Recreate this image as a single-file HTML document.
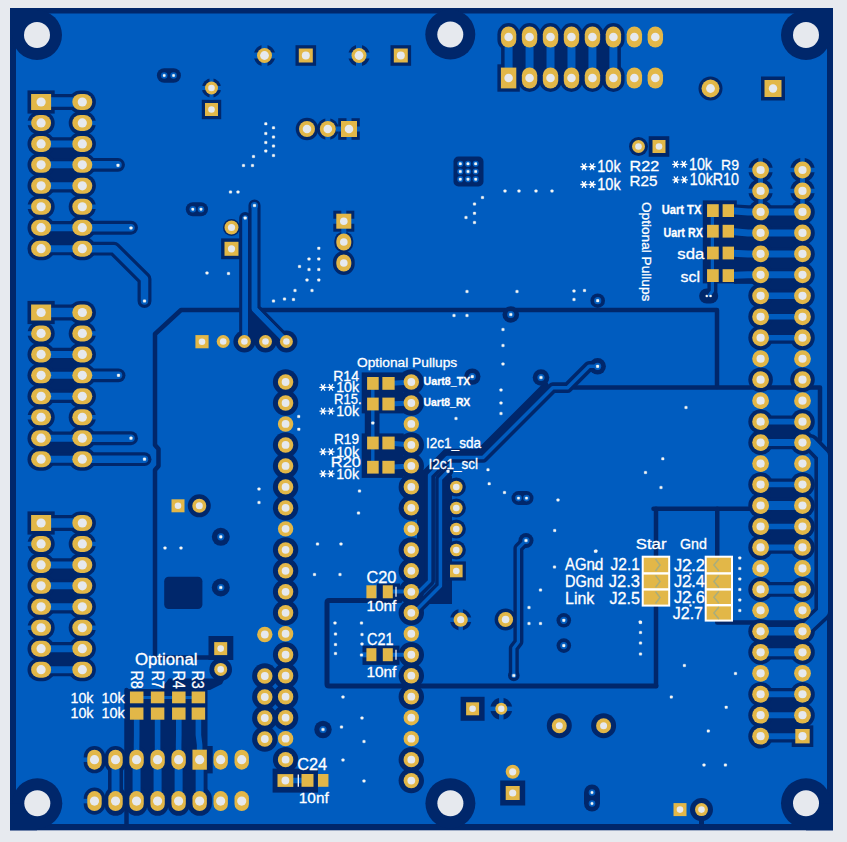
<!DOCTYPE html>
<html><head><meta charset="utf-8"><title>PCB bottom layer</title>
<style>
html,body{margin:0;padding:0;background:#e7eaef;}
body{width:847px;height:842px;overflow:hidden;font-family:"Liberation Sans",sans-serif;}
svg{display:block;}
</style></head><body>
<svg width="847" height="842" viewBox="0 0 847 842" shape-rendering="geometricPrecision">
<rect width="847" height="842" fill="#e7eaef"/>
<g id="pour"><rect x="10" y="8" width="823" height="822.3" fill="#00276b"/>
<rect x="16" y="13.5" width="811" height="810.5" fill="#005cbf"/>
<circle cx="37" cy="35" r="25" fill="#00276b"/>
<circle cx="450.3" cy="34.5" r="25" fill="#00276b"/>
<circle cx="806" cy="35" r="25" fill="#00276b"/>
<circle cx="37.3" cy="803.3" r="25" fill="#00276b"/>
<circle cx="450.4" cy="803.3" r="25" fill="#00276b"/>
<circle cx="806" cy="803.3" r="25" fill="#00276b"/>
<rect x="10" y="8" width="27" height="27" fill="#00276b"/>
<rect x="806" y="8" width="27" height="27" fill="#00276b"/>
<rect x="10" y="803.3" width="27" height="27" fill="#00276b"/>
<rect x="806" y="803.3" width="27" height="27" fill="#00276b"/>
<path d="M212,657.5 H157.5 Q155,657.5 155,655 V470 L158.5,466 V449 L155,445 V334 L181,310 H717 V387" fill="none" stroke="#00276b" stroke-width="4.5" stroke-linecap="round" stroke-linejoin="round"/>
<path d="M574,387.5 H820 V440" fill="none" stroke="#00276b" stroke-width="4.5" stroke-linecap="round" stroke-linejoin="round"/>
<path d="M653.5,508.75 H750" fill="none" stroke="#00276b" stroke-width="4.5" stroke-linecap="round" stroke-linejoin="round"/>
<path d="M656,508.75 V686" fill="none" stroke="#00276b" stroke-width="4.5" stroke-linecap="round" stroke-linejoin="round"/>
<path d="M717.25,508.75 V622.5 H812 L816,618" fill="none" stroke="#00276b" stroke-width="4.5" stroke-linecap="round" stroke-linejoin="round"/>
<path d="M400,600.5 H329 Q327,600.5 327,602.5 V684 Q327,686 329,686 H656" fill="none" stroke="#00276b" stroke-width="5" stroke-linecap="round" stroke-linejoin="round"/>
<path d="M126.5,690 V824" fill="none" stroke="#00276b" stroke-width="4.5" stroke-linecap="round" stroke-linejoin="round"/></g>
<g id="dark"><path d="M41.1,102 H82.3" fill="none" stroke="#00276b" stroke-width="15.9" stroke-linecap="round" stroke-linejoin="round"/>
<rect x="27.5" y="90.4" width="27.2" height="23.2" fill="#00276b"/>
<rect x="68.7" y="90.4" width="27.2" height="23.2" rx="11.6" fill="#00276b"/>
<rect x="27.5" y="111.35" width="27.2" height="23.2" rx="11.6" fill="#00276b"/>
<rect x="68.7" y="111.35" width="27.2" height="23.2" rx="11.6" fill="#00276b"/>
<path d="M41.1,143.9 H82.3" fill="none" stroke="#00276b" stroke-width="13.4" stroke-linecap="round" stroke-linejoin="round"/>
<rect x="41.1" y="143.9" width="41.2" height="20.95" fill="#00276b"/>
<rect x="27.5" y="132.3" width="27.2" height="23.2" rx="11.6" fill="#00276b"/>
<rect x="68.7" y="132.3" width="27.2" height="23.2" rx="11.6" fill="#00276b"/>
<path d="M41.1,164.85 H82.3" fill="none" stroke="#00276b" stroke-width="13.4" stroke-linecap="round" stroke-linejoin="round"/>
<rect x="41.1" y="164.85" width="41.2" height="20.95" fill="#00276b"/>
<rect x="27.5" y="153.25" width="27.2" height="23.2" rx="11.6" fill="#00276b"/>
<rect x="68.7" y="153.25" width="27.2" height="23.2" rx="11.6" fill="#00276b"/>
<path d="M82.3,164.85 H118" fill="none" stroke="#00276b" stroke-width="13.9" stroke-linecap="round" stroke-linejoin="round"/>
<path d="M41.1,185.8 H82.3" fill="none" stroke="#00276b" stroke-width="13.4" stroke-linecap="round" stroke-linejoin="round"/>
<rect x="27.5" y="174.2" width="27.2" height="23.2" rx="11.6" fill="#00276b"/>
<rect x="68.7" y="174.2" width="27.2" height="23.2" rx="11.6" fill="#00276b"/>
<rect x="27.5" y="195.15" width="27.2" height="23.2" rx="11.6" fill="#00276b"/>
<rect x="68.7" y="195.15" width="27.2" height="23.2" rx="11.6" fill="#00276b"/>
<path d="M41.1,227.7 H82.3" fill="none" stroke="#00276b" stroke-width="13.4" stroke-linecap="round" stroke-linejoin="round"/>
<rect x="41.1" y="227.7" width="41.2" height="20.95" fill="#00276b"/>
<rect x="27.5" y="216.1" width="27.2" height="23.2" rx="11.6" fill="#00276b"/>
<rect x="68.7" y="216.1" width="27.2" height="23.2" rx="11.6" fill="#00276b"/>
<path d="M82.3,227.7 H131" fill="none" stroke="#00276b" stroke-width="13.9" stroke-linecap="round" stroke-linejoin="round"/>
<path d="M41.1,248.65 H82.3" fill="none" stroke="#00276b" stroke-width="13.4" stroke-linecap="round" stroke-linejoin="round"/>
<rect x="27.5" y="237.05" width="27.2" height="23.2" rx="11.6" fill="#00276b"/>
<rect x="68.7" y="237.05" width="27.2" height="23.2" rx="11.6" fill="#00276b"/>
<path d="M82.3,248.65 H114 L144.5,279 V301" fill="none" stroke="#00276b" stroke-width="13.9" stroke-linecap="round" stroke-linejoin="round"/>
<path d="M41.1,312.5 H82.3" fill="none" stroke="#00276b" stroke-width="15.9" stroke-linecap="round" stroke-linejoin="round"/>
<rect x="27.5" y="300.9" width="27.2" height="23.2" fill="#00276b"/>
<rect x="68.7" y="300.9" width="27.2" height="23.2" rx="11.6" fill="#00276b"/>
<rect x="27.5" y="321.85" width="27.2" height="23.2" rx="11.6" fill="#00276b"/>
<rect x="68.7" y="321.85" width="27.2" height="23.2" rx="11.6" fill="#00276b"/>
<path d="M41.1,354.4 H82.3" fill="none" stroke="#00276b" stroke-width="13.4" stroke-linecap="round" stroke-linejoin="round"/>
<rect x="41.1" y="354.4" width="41.2" height="20.95" fill="#00276b"/>
<rect x="27.5" y="342.8" width="27.2" height="23.2" rx="11.6" fill="#00276b"/>
<rect x="68.7" y="342.8" width="27.2" height="23.2" rx="11.6" fill="#00276b"/>
<path d="M41.1,375.35 H82.3" fill="none" stroke="#00276b" stroke-width="13.4" stroke-linecap="round" stroke-linejoin="round"/>
<rect x="41.1" y="375.35" width="41.2" height="20.95" fill="#00276b"/>
<rect x="27.5" y="363.75" width="27.2" height="23.2" rx="11.6" fill="#00276b"/>
<rect x="68.7" y="363.75" width="27.2" height="23.2" rx="11.6" fill="#00276b"/>
<path d="M82.3,375.35 H118.5" fill="none" stroke="#00276b" stroke-width="13.9" stroke-linecap="round" stroke-linejoin="round"/>
<path d="M41.1,396.3 H82.3" fill="none" stroke="#00276b" stroke-width="13.4" stroke-linecap="round" stroke-linejoin="round"/>
<rect x="27.5" y="384.7" width="27.2" height="23.2" rx="11.6" fill="#00276b"/>
<rect x="68.7" y="384.7" width="27.2" height="23.2" rx="11.6" fill="#00276b"/>
<rect x="27.5" y="405.65" width="27.2" height="23.2" rx="11.6" fill="#00276b"/>
<rect x="68.7" y="405.65" width="27.2" height="23.2" rx="11.6" fill="#00276b"/>
<path d="M41.1,438.2 H82.3" fill="none" stroke="#00276b" stroke-width="13.4" stroke-linecap="round" stroke-linejoin="round"/>
<rect x="41.1" y="438.2" width="41.2" height="20.95" fill="#00276b"/>
<rect x="27.5" y="426.6" width="27.2" height="23.2" rx="11.6" fill="#00276b"/>
<rect x="68.7" y="426.6" width="27.2" height="23.2" rx="11.6" fill="#00276b"/>
<path d="M82.3,438.2 H131" fill="none" stroke="#00276b" stroke-width="13.9" stroke-linecap="round" stroke-linejoin="round"/>
<path d="M41.1,459.15 H82.3" fill="none" stroke="#00276b" stroke-width="13.4" stroke-linecap="round" stroke-linejoin="round"/>
<rect x="27.5" y="447.55" width="27.2" height="23.2" rx="11.6" fill="#00276b"/>
<rect x="68.7" y="447.55" width="27.2" height="23.2" rx="11.6" fill="#00276b"/>
<path d="M82.3,459.15 H144.5" fill="none" stroke="#00276b" stroke-width="13.9" stroke-linecap="round" stroke-linejoin="round"/>
<path d="M41.1,523 H82.3" fill="none" stroke="#00276b" stroke-width="15.9" stroke-linecap="round" stroke-linejoin="round"/>
<rect x="27.5" y="511.4" width="27.2" height="23.2" fill="#00276b"/>
<rect x="68.7" y="511.4" width="27.2" height="23.2" rx="11.6" fill="#00276b"/>
<rect x="27.5" y="532.35" width="27.2" height="23.2" rx="11.6" fill="#00276b"/>
<rect x="68.7" y="532.35" width="27.2" height="23.2" rx="11.6" fill="#00276b"/>
<path d="M41.1,564.9 H82.3" fill="none" stroke="#00276b" stroke-width="13.4" stroke-linecap="round" stroke-linejoin="round"/>
<rect x="41.1" y="564.9" width="41.2" height="20.95" fill="#00276b"/>
<rect x="27.5" y="553.3" width="27.2" height="23.2" rx="11.6" fill="#00276b"/>
<rect x="68.7" y="553.3" width="27.2" height="23.2" rx="11.6" fill="#00276b"/>
<path d="M41.1,585.85 H82.3" fill="none" stroke="#00276b" stroke-width="13.4" stroke-linecap="round" stroke-linejoin="round"/>
<rect x="41.1" y="585.85" width="41.2" height="20.95" fill="#00276b"/>
<rect x="27.5" y="574.25" width="27.2" height="23.2" rx="11.6" fill="#00276b"/>
<rect x="68.7" y="574.25" width="27.2" height="23.2" rx="11.6" fill="#00276b"/>
<path d="M41.1,606.8 H82.3" fill="none" stroke="#00276b" stroke-width="13.4" stroke-linecap="round" stroke-linejoin="round"/>
<rect x="27.5" y="595.2" width="27.2" height="23.2" rx="11.6" fill="#00276b"/>
<rect x="68.7" y="595.2" width="27.2" height="23.2" rx="11.6" fill="#00276b"/>
<rect x="27.5" y="616.15" width="27.2" height="23.2" rx="11.6" fill="#00276b"/>
<rect x="68.7" y="616.15" width="27.2" height="23.2" rx="11.6" fill="#00276b"/>
<path d="M41.1,648.7 H82.3" fill="none" stroke="#00276b" stroke-width="13.4" stroke-linecap="round" stroke-linejoin="round"/>
<rect x="41.1" y="648.7" width="41.2" height="20.95" fill="#00276b"/>
<rect x="27.5" y="637.1" width="27.2" height="23.2" rx="11.6" fill="#00276b"/>
<rect x="68.7" y="637.1" width="27.2" height="23.2" rx="11.6" fill="#00276b"/>
<path d="M41.1,669.65 H82.3" fill="none" stroke="#00276b" stroke-width="13.4" stroke-linecap="round" stroke-linejoin="round"/>
<rect x="27.5" y="658.05" width="27.2" height="23.2" rx="11.6" fill="#00276b"/>
<rect x="68.7" y="658.05" width="27.2" height="23.2" rx="11.6" fill="#00276b"/>
<ellipse cx="760.6" cy="170" rx="12.3" ry="12.3" fill="#00276b"/>
<ellipse cx="802.5" cy="170" rx="12.3" ry="12.3" fill="#00276b"/>
<ellipse cx="760.6" cy="190.97" rx="12.3" ry="12.3" fill="#00276b"/>
<ellipse cx="802.5" cy="190.97" rx="12.3" ry="12.3" fill="#00276b"/>
<path d="M760.6,211.94 H802.5" fill="none" stroke="#00276b" stroke-width="13.4" stroke-linecap="round" stroke-linejoin="round"/>
<rect x="760.6" y="211.94" width="41.9" height="20.97" fill="#00276b"/>
<circle cx="760.6" cy="211.94" r="12.3" fill="#00276b"/>
<circle cx="802.5" cy="211.94" r="12.3" fill="#00276b"/>
<path d="M760.6,232.91 H802.5" fill="none" stroke="#00276b" stroke-width="13.4" stroke-linecap="round" stroke-linejoin="round"/>
<rect x="760.6" y="232.91" width="41.9" height="20.97" fill="#00276b"/>
<circle cx="760.6" cy="232.91" r="12.3" fill="#00276b"/>
<circle cx="802.5" cy="232.91" r="12.3" fill="#00276b"/>
<path d="M760.6,253.88 H802.5" fill="none" stroke="#00276b" stroke-width="13.4" stroke-linecap="round" stroke-linejoin="round"/>
<rect x="760.6" y="253.88" width="41.9" height="20.97" fill="#00276b"/>
<circle cx="760.6" cy="253.88" r="12.3" fill="#00276b"/>
<circle cx="802.5" cy="253.88" r="12.3" fill="#00276b"/>
<path d="M760.6,274.85 H802.5" fill="none" stroke="#00276b" stroke-width="13.4" stroke-linecap="round" stroke-linejoin="round"/>
<rect x="760.6" y="274.85" width="41.9" height="20.97" fill="#00276b"/>
<circle cx="760.6" cy="274.85" r="12.3" fill="#00276b"/>
<circle cx="802.5" cy="274.85" r="12.3" fill="#00276b"/>
<path d="M760.6,295.82 H802.5" fill="none" stroke="#00276b" stroke-width="12.9" stroke-linecap="round" stroke-linejoin="round"/>
<rect x="760.6" y="295.82" width="41.9" height="20.97" fill="#00276b"/>
<circle cx="760.6" cy="295.82" r="12.3" fill="#00276b"/>
<circle cx="802.5" cy="295.82" r="12.3" fill="#00276b"/>
<path d="M760.6,316.79 H802.5" fill="none" stroke="#00276b" stroke-width="11.9" stroke-linecap="round" stroke-linejoin="round"/>
<rect x="760.6" y="316.79" width="41.9" height="20.97" fill="#00276b"/>
<circle cx="760.6" cy="316.79" r="12.3" fill="#00276b"/>
<circle cx="802.5" cy="316.79" r="12.3" fill="#00276b"/>
<path d="M760.6,337.76 H802.5" fill="none" stroke="#00276b" stroke-width="11.9" stroke-linecap="round" stroke-linejoin="round"/>
<circle cx="760.6" cy="337.76" r="12.3" fill="#00276b"/>
<circle cx="802.5" cy="337.76" r="12.3" fill="#00276b"/>
<circle cx="760.6" cy="379.7" r="12.3" fill="#00276b"/>
<circle cx="802.5" cy="379.7" r="12.3" fill="#00276b"/>
<path d="M760.6,421.64 H802.5" fill="none" stroke="#00276b" stroke-width="12.1" stroke-linecap="round" stroke-linejoin="round"/>
<rect x="760.6" y="421.64" width="41.9" height="20.97" fill="#00276b"/>
<circle cx="760.6" cy="421.64" r="12.3" fill="#00276b"/>
<circle cx="802.5" cy="421.64" r="12.3" fill="#00276b"/>
<path d="M760.6,442.61 H802.5" fill="none" stroke="#00276b" stroke-width="13.4" stroke-linecap="round" stroke-linejoin="round"/>
<circle cx="760.6" cy="442.61" r="12.3" fill="#00276b"/>
<circle cx="802.5" cy="442.61" r="12.3" fill="#00276b"/>
<path d="M760.6,484.55 H802.5" fill="none" stroke="#00276b" stroke-width="11.9" stroke-linecap="round" stroke-linejoin="round"/>
<rect x="760.6" y="484.55" width="41.9" height="20.97" fill="#00276b"/>
<circle cx="760.6" cy="484.55" r="12.3" fill="#00276b"/>
<circle cx="802.5" cy="484.55" r="12.3" fill="#00276b"/>
<path d="M760.6,505.52 H802.5" fill="none" stroke="#00276b" stroke-width="15.4" stroke-linecap="round" stroke-linejoin="round"/>
<rect x="760.6" y="505.52" width="41.9" height="20.97" fill="#00276b"/>
<circle cx="760.6" cy="505.52" r="12.3" fill="#00276b"/>
<circle cx="802.5" cy="505.52" r="12.3" fill="#00276b"/>
<path d="M760.6,526.49 H802.5" fill="none" stroke="#00276b" stroke-width="11.9" stroke-linecap="round" stroke-linejoin="round"/>
<rect x="760.6" y="526.49" width="41.9" height="20.97" fill="#00276b"/>
<circle cx="760.6" cy="526.49" r="12.3" fill="#00276b"/>
<circle cx="802.5" cy="526.49" r="12.3" fill="#00276b"/>
<path d="M760.6,547.46 H802.5" fill="none" stroke="#00276b" stroke-width="12.4" stroke-linecap="round" stroke-linejoin="round"/>
<circle cx="760.6" cy="547.46" r="12.3" fill="#00276b"/>
<circle cx="802.5" cy="547.46" r="12.3" fill="#00276b"/>
<path d="M760.6,589.4 H802.5" fill="none" stroke="#00276b" stroke-width="14.9" stroke-linecap="round" stroke-linejoin="round"/>
<circle cx="760.6" cy="589.4" r="12.3" fill="#00276b"/>
<circle cx="802.5" cy="589.4" r="12.3" fill="#00276b"/>
<path d="M760.6,631.34 H802.5" fill="none" stroke="#00276b" stroke-width="14.9" stroke-linecap="round" stroke-linejoin="round"/>
<rect x="760.6" y="631.34" width="41.9" height="20.97" fill="#00276b"/>
<circle cx="760.6" cy="631.34" r="12.3" fill="#00276b"/>
<circle cx="802.5" cy="631.34" r="12.3" fill="#00276b"/>
<path d="M760.6,652.31 H802.5" fill="none" stroke="#00276b" stroke-width="14.4" stroke-linecap="round" stroke-linejoin="round"/>
<circle cx="760.6" cy="652.31" r="12.3" fill="#00276b"/>
<circle cx="802.5" cy="652.31" r="12.3" fill="#00276b"/>
<path d="M760.6,694.25 H802.5" fill="none" stroke="#00276b" stroke-width="12.4" stroke-linecap="round" stroke-linejoin="round"/>
<rect x="760.6" y="694.25" width="41.9" height="20.97" fill="#00276b"/>
<circle cx="760.6" cy="694.25" r="12.3" fill="#00276b"/>
<circle cx="802.5" cy="694.25" r="12.3" fill="#00276b"/>
<path d="M760.6,715.22 H802.5" fill="none" stroke="#00276b" stroke-width="12.4" stroke-linecap="round" stroke-linejoin="round"/>
<rect x="760.6" y="715.22" width="41.9" height="20.97" fill="#00276b"/>
<circle cx="760.6" cy="715.22" r="12.3" fill="#00276b"/>
<circle cx="802.5" cy="715.22" r="12.3" fill="#00276b"/>
<path d="M760.6,736.19 H802.5" fill="none" stroke="#00276b" stroke-width="12.4" stroke-linecap="round" stroke-linejoin="round"/>
<circle cx="760.6" cy="736.19" r="12.3" fill="#00276b"/>
<rect x="791.7" y="725.39" width="21.6" height="21.6" fill="#00276b"/>
<path d="M802.5,442.61 H810.5 L823,455.5 V612 L802.5,631.34" fill="none" stroke="#00276b" stroke-width="17.2" stroke-linecap="round" stroke-linejoin="round"/>
<path d="M508.6,37 V78" fill="none" stroke="#00276b" stroke-width="15" stroke-linecap="round" stroke-linejoin="round"/>
<rect x="508.6" y="37" width="20.96" height="41" fill="#00276b"/>
<rect x="497.4" y="23.1" width="22.4" height="27.8" rx="11.2" fill="#00276b"/>
<rect x="497.4" y="64.3" width="22.4" height="27.4" fill="#00276b"/>
<path d="M529.56,37 V78" fill="none" stroke="#00276b" stroke-width="15" stroke-linecap="round" stroke-linejoin="round"/>
<rect x="529.56" y="37" width="20.96" height="41" fill="#00276b"/>
<rect x="518.36" y="23.1" width="22.4" height="27.8" rx="11.2" fill="#00276b"/>
<rect x="518.36" y="64.1" width="22.4" height="27.8" rx="11.2" fill="#00276b"/>
<path d="M550.52,37 V78" fill="none" stroke="#00276b" stroke-width="15" stroke-linecap="round" stroke-linejoin="round"/>
<rect x="550.52" y="37" width="20.96" height="41" fill="#00276b"/>
<rect x="539.32" y="23.1" width="22.4" height="27.8" rx="11.2" fill="#00276b"/>
<rect x="539.32" y="64.1" width="22.4" height="27.8" rx="11.2" fill="#00276b"/>
<path d="M571.48,37 V78" fill="none" stroke="#00276b" stroke-width="15" stroke-linecap="round" stroke-linejoin="round"/>
<rect x="571.48" y="37" width="20.96" height="41" fill="#00276b"/>
<rect x="560.28" y="23.1" width="22.4" height="27.8" rx="11.2" fill="#00276b"/>
<rect x="560.28" y="64.1" width="22.4" height="27.8" rx="11.2" fill="#00276b"/>
<path d="M592.44,37 V78" fill="none" stroke="#00276b" stroke-width="15" stroke-linecap="round" stroke-linejoin="round"/>
<rect x="592.44" y="37" width="20.96" height="41" fill="#00276b"/>
<rect x="581.24" y="23.1" width="22.4" height="27.8" rx="11.2" fill="#00276b"/>
<rect x="581.24" y="64.1" width="22.4" height="27.8" rx="11.2" fill="#00276b"/>
<path d="M613.4,37 V78" fill="none" stroke="#00276b" stroke-width="15" stroke-linecap="round" stroke-linejoin="round"/>
<rect x="602.2" y="23.1" width="22.4" height="27.8" rx="11.2" fill="#00276b"/>
<rect x="602.2" y="64.1" width="22.4" height="27.8" rx="11.2" fill="#00276b"/>
<rect x="125.3" y="689" width="82.2" height="112" fill="#00276b"/>
<path d="M160,690 L169,678.5 H214 L226,676 L222,684 L210,690 Z" fill="#00276b"/>
<rect x="83.7" y="746.1" width="21.6" height="27.2" rx="10.8" fill="#00276b"/>
<rect x="83.7" y="787.5" width="21.6" height="27.2" rx="10.8" fill="#00276b"/>
<path d="M115.53,759.7 V801.1" fill="none" stroke="#00276b" stroke-width="15" stroke-linecap="round" stroke-linejoin="round"/>
<rect x="104.73" y="746" width="21.6" height="27.4" rx="10.8" fill="#00276b"/>
<rect x="104.73" y="786.4" width="21.6" height="29.4" rx="10.8" fill="#00276b"/>
<rect x="125.76" y="746" width="21.6" height="27.4" rx="10.8" fill="#00276b"/>
<rect x="125.76" y="786.4" width="21.6" height="29.4" rx="10.8" fill="#00276b"/>
<rect x="146.79" y="746" width="21.6" height="27.4" rx="10.8" fill="#00276b"/>
<rect x="146.79" y="786.4" width="21.6" height="29.4" rx="10.8" fill="#00276b"/>
<rect x="167.82" y="746" width="21.6" height="27.4" rx="10.8" fill="#00276b"/>
<rect x="167.82" y="786.4" width="21.6" height="29.4" rx="10.8" fill="#00276b"/>
<rect x="186.6" y="746" width="26.1" height="27.4" fill="#00276b"/>
<rect x="187.35" y="786.4" width="24.6" height="29.4" rx="12.3" fill="#00276b"/>
<ellipse cx="285.6" cy="382" rx="12.7" ry="12.7" fill="#00276b"/>
<ellipse cx="285.6" cy="402.98" rx="12.7" ry="12.7" fill="#00276b"/>
<ellipse cx="285.6" cy="444.94" rx="12.7" ry="12.7" fill="#00276b"/>
<ellipse cx="285.6" cy="465.92" rx="12.7" ry="12.7" fill="#00276b"/>
<ellipse cx="285.6" cy="486.9" rx="12.7" ry="12.7" fill="#00276b"/>
<ellipse cx="285.6" cy="507.88" rx="12.7" ry="12.7" fill="#00276b"/>
<ellipse cx="285.6" cy="549.84" rx="12.7" ry="12.7" fill="#00276b"/>
<ellipse cx="285.6" cy="570.82" rx="12.7" ry="12.7" fill="#00276b"/>
<ellipse cx="285.6" cy="591.8" rx="12.7" ry="12.7" fill="#00276b"/>
<ellipse cx="285.6" cy="612.78" rx="12.7" ry="12.7" fill="#00276b"/>
<ellipse cx="285.6" cy="654.74" rx="12.7" ry="12.7" fill="#00276b"/>
<ellipse cx="285.6" cy="675.72" rx="12.7" ry="12.7" fill="#00276b"/>
<ellipse cx="285.6" cy="696.7" rx="12.7" ry="12.7" fill="#00276b"/>
<ellipse cx="285.6" cy="717.68" rx="12.7" ry="12.7" fill="#00276b"/>
<ellipse cx="285.6" cy="759.64" rx="12.7" ry="12.7" fill="#00276b"/>
<ellipse cx="411.3" cy="382" rx="12.7" ry="12.7" fill="#00276b"/>
<ellipse cx="411.3" cy="402.98" rx="12.7" ry="12.7" fill="#00276b"/>
<ellipse cx="411.3" cy="444.94" rx="12.7" ry="12.7" fill="#00276b"/>
<ellipse cx="411.3" cy="465.92" rx="12.7" ry="12.7" fill="#00276b"/>
<ellipse cx="411.3" cy="486.9" rx="12.7" ry="12.7" fill="#00276b"/>
<ellipse cx="411.3" cy="507.88" rx="12.7" ry="12.7" fill="#00276b"/>
<ellipse cx="411.3" cy="549.84" rx="12.7" ry="12.7" fill="#00276b"/>
<ellipse cx="411.3" cy="570.82" rx="12.7" ry="12.7" fill="#00276b"/>
<ellipse cx="411.3" cy="591.8" rx="12.7" ry="12.7" fill="#00276b"/>
<ellipse cx="411.3" cy="612.78" rx="12.7" ry="12.7" fill="#00276b"/>
<ellipse cx="411.3" cy="654.74" rx="12.7" ry="12.7" fill="#00276b"/>
<ellipse cx="411.3" cy="675.72" rx="12.7" ry="12.7" fill="#00276b"/>
<ellipse cx="411.3" cy="696.7" rx="12.7" ry="12.7" fill="#00276b"/>
<ellipse cx="411.3" cy="759.64" rx="12.7" ry="12.7" fill="#00276b"/>
<ellipse cx="411.3" cy="780.62" rx="12.7" ry="12.7" fill="#00276b"/>
<ellipse cx="264.8" cy="676" rx="12.7" ry="12.7" fill="#00276b"/>
<ellipse cx="264.8" cy="697" rx="12.7" ry="12.7" fill="#00276b"/>
<ellipse cx="264.8" cy="718" rx="12.7" ry="12.7" fill="#00276b"/>
<ellipse cx="264.8" cy="739" rx="12.7" ry="12.7" fill="#00276b"/>
<rect x="361.7" y="372.4" width="42" height="41" fill="#00276b"/>
<rect x="364.8" y="410" width="14.7" height="26" fill="#00276b"/>
<rect x="361.7" y="433.4" width="42" height="44.5" fill="#00276b"/>
<rect x="702.8" y="200.4" width="34" height="83" fill="#00276b"/>
<path d="M712.4,280 V292 L708.6,296" fill="none" stroke="#00276b" stroke-width="10" stroke-linecap="round" stroke-linejoin="round"/>
<path d="M706.6,296 H710.7" fill="none" stroke="#00276b" stroke-width="15" stroke-linecap="round" stroke-linejoin="round"/>
<path d="M728.3,210.6 L748,211.94 H760.6" fill="none" stroke="#00276b" stroke-width="13.4" stroke-linecap="round" stroke-linejoin="round"/>
<path d="M728.3,231.2 L748,232.91 H760.6" fill="none" stroke="#00276b" stroke-width="13.4" stroke-linecap="round" stroke-linejoin="round"/>
<path d="M728.3,253 L748,253.88 H760.6" fill="none" stroke="#00276b" stroke-width="13.4" stroke-linecap="round" stroke-linejoin="round"/>
<path d="M728.3,275.6 L748,274.85 H760.6" fill="none" stroke="#00276b" stroke-width="13.4" stroke-linecap="round" stroke-linejoin="round"/>
<rect x="734" y="211.94" width="27" height="71.91" fill="#00276b"/>
<path d="M541,377.5 L545.5,385.6 L479,452 H446 L424.5,473.5 V582 L417,590" fill="none" stroke="#00276b" stroke-width="6.5" stroke-linecap="round" stroke-linejoin="round"/>
<rect x="417" y="470" width="8" height="115" fill="#00276b"/>
<path d="M597.6,366.3 H589 L567.5,387.7 H552.7 L483,457.5 H447.3 L429.6,475.2 V581 L418.5,592 H411.3" fill="none" stroke="#00276b" stroke-width="10.7" stroke-linecap="round" stroke-linejoin="round"/>
<path d="M448,471.3 L440.4,479 V586 L414,612.4 H411.3" fill="none" stroke="#00276b" stroke-width="10.3" stroke-linecap="round" stroke-linejoin="round"/>
<path d="M443,480 L449,473 L452,476 V604 H428 L443,589 Z" fill="#00276b"/>
<ellipse cx="456.3" cy="487" rx="9.6" ry="9.6" fill="#00276b"/>
<ellipse cx="456.3" cy="508" rx="9.6" ry="9.6" fill="#00276b"/>
<ellipse cx="456.3" cy="529" rx="9.6" ry="9.6" fill="#00276b"/>
<ellipse cx="456.3" cy="550" rx="9.6" ry="9.6" fill="#00276b"/>
<rect x="446.7" y="561.4" width="19.2" height="19.2" fill="#00276b"/>
<ellipse cx="244.4" cy="341.5" rx="11" ry="11" fill="#00276b"/>
<ellipse cx="265.5" cy="341.5" rx="11" ry="11" fill="#00276b"/>
<ellipse cx="286.4" cy="341.5" rx="11" ry="11" fill="#00276b"/>
<path d="M245.2,218 V341.5" fill="none" stroke="#00276b" stroke-width="12.1" stroke-linecap="round" stroke-linejoin="round"/>
<path d="M254.5,205.5 V309 L286.4,341.5" fill="none" stroke="#00276b" stroke-width="12.1" stroke-linecap="round" stroke-linejoin="round"/>
<path d="M248,300 H254 L282,330 L270,341 H248 Z" fill="#00276b"/>
<circle cx="254.5" cy="205.5" r="5.5" fill="#00276b"/>
<circle cx="510.8" cy="314.5" r="8.3" fill="#00276b"/>
<circle cx="597.7" cy="300.7" r="7.3" fill="#00276b"/>
<circle cx="472.3" cy="376.6" r="8.2" fill="#00276b"/>
<circle cx="541" cy="377.5" r="8.3" fill="#00276b"/>
<circle cx="597.6" cy="366.3" r="8.3" fill="#00276b"/>
<circle cx="220.8" cy="536.8" r="9" fill="#00276b"/>
<circle cx="220.8" cy="587.5" r="9" fill="#00276b"/>
<circle cx="323" cy="729.5" r="8.7" fill="#00276b"/>
<circle cx="563.8" cy="645.6" r="7.3" fill="#00276b"/>
<circle cx="563.8" cy="620.3" r="7.3" fill="#00276b"/>
<path d="M592,792.5 L592,803.5" fill="none" stroke="#00276b" stroke-width="16" stroke-linecap="round" stroke-linejoin="round"/>
<path d="M526,540.5 L518.4,548 V642 L513.8,648 V675.5" fill="none" stroke="#00276b" stroke-width="10" stroke-linecap="round" stroke-linejoin="round"/>
<circle cx="526" cy="540.5" r="7.5" fill="#00276b"/>
<circle cx="513.8" cy="675.5" r="5.8" fill="#00276b"/>
<ellipse cx="264.5" cy="55.5" rx="10.8" ry="10.8" fill="#00276b"/>
<rect x="295.5" y="45.2" width="20.6" height="20.6" fill="#00276b"/>
<ellipse cx="359" cy="55.5" rx="10.8" ry="10.8" fill="#00276b"/>
<rect x="390.5" y="45.2" width="20.6" height="20.6" fill="#00276b"/>
<ellipse cx="211.5" cy="88" rx="9.7" ry="9.7" fill="#00276b"/>
<rect x="201.8" y="99.8" width="19.4" height="19.4" fill="#00276b"/>
<ellipse cx="307" cy="129" rx="11.3" ry="11.3" fill="#00276b"/>
<ellipse cx="327.8" cy="129" rx="10.8" ry="10.8" fill="#00276b"/>
<rect x="338.2" y="118.2" width="21.6" height="21.6" fill="#00276b"/>
<ellipse cx="231.5" cy="227.5" rx="8.5" ry="8.5" fill="#00276b"/>
<rect x="221.1" y="238.4" width="20.8" height="20.8" fill="#00276b"/>
<rect x="333.3" y="210.7" width="21" height="21" fill="#00276b"/>
<rect x="334.3" y="231.5" width="19" height="21" rx="9.5" fill="#00276b"/>
<rect x="332.9" y="251.1" width="21.8" height="23.8" rx="10.9" fill="#00276b"/>
<ellipse cx="710.5" cy="88.5" rx="12" ry="12" fill="#00276b"/>
<rect x="761" y="76.5" width="24" height="24" fill="#00276b"/>
<ellipse cx="638.5" cy="146.5" rx="9.5" ry="9.5" fill="#00276b"/>
<rect x="648.7" y="136.2" width="20.6" height="20.6" fill="#00276b"/>
<ellipse cx="199.3" cy="505.8" rx="11.5" ry="11.5" fill="#00276b"/>
<rect x="208.5" y="636" width="24.8" height="24" fill="#00276b"/>
<ellipse cx="220.7" cy="669.4" rx="10.7" ry="10.7" fill="#00276b"/>
<circle cx="220.7" cy="669.4" r="11.3" fill="#00276b"/>
<rect x="460.6" y="696.8" width="24" height="24" fill="#00276b"/>
<ellipse cx="501.3" cy="708.8" rx="11" ry="11" fill="#00276b"/>
<ellipse cx="559.3" cy="725.7" rx="12.5" ry="12.5" fill="#00276b"/>
<ellipse cx="603.6" cy="725.7" rx="12.5" ry="12.5" fill="#00276b"/>
<rect x="500.2" y="780.5" width="25" height="25" fill="#00276b"/>
<ellipse cx="460.7" cy="619.7" rx="10.7" ry="10.7" fill="#00276b"/>
<ellipse cx="505.6" cy="619.5" rx="11" ry="11" fill="#00276b"/>
<ellipse cx="701.5" cy="809.6" rx="11.5" ry="11.5" fill="#00276b"/>
<path d="M701.5,815 V826" fill="none" stroke="#00276b" stroke-width="5" stroke-linecap="round" stroke-linejoin="round"/>
<rect x="164.2" y="576.8" width="38.2" height="32.2" fill="#00276b" rx="4.5"/>
<rect x="453.5" y="156.5" width="30" height="30" fill="#00276b" rx="5"/>
<path d="M164.2,75.5 L173.6,75.5" fill="none" stroke="#00276b" stroke-width="14.6" stroke-linecap="round" stroke-linejoin="round"/>
<path d="M192.8,209.2 L201,209.2" fill="none" stroke="#00276b" stroke-width="14" stroke-linecap="round" stroke-linejoin="round"/>
<path d="M518.5,498.1 L526.5,498.1" fill="none" stroke="#00276b" stroke-width="14" stroke-linecap="round" stroke-linejoin="round"/>
<rect x="377" y="583.5" width="23" height="17" fill="#00276b"/>
<rect x="362.5" y="645.6" width="37" height="19.3" fill="#00276b"/>
<rect x="272.6" y="768.6" width="45.4" height="24" fill="#00276b"/></g>
<g id="blue"><path d="M41.1,102 H82.3" fill="none" stroke="#005cbf" stroke-width="9.5" stroke-linecap="round" stroke-linejoin="round"/>
<path d="M25.5,122.95 H41.1" fill="none" stroke="#005cbf" stroke-width="4.5" stroke-linecap="butt" stroke-linejoin="round"/>
<path d="M82.3,122.95 H97.9" fill="none" stroke="#005cbf" stroke-width="4.5" stroke-linecap="butt" stroke-linejoin="round"/>
<path d="M41.1,143.9 H82.3" fill="none" stroke="#005cbf" stroke-width="7" stroke-linecap="round" stroke-linejoin="round"/>
<path d="M41.1,164.85 H82.3" fill="none" stroke="#005cbf" stroke-width="7" stroke-linecap="round" stroke-linejoin="round"/>
<path d="M82.3,164.85 H118" fill="none" stroke="#005cbf" stroke-width="7.5" stroke-linecap="round" stroke-linejoin="round"/>
<path d="M41.1,185.8 H82.3" fill="none" stroke="#005cbf" stroke-width="7" stroke-linecap="round" stroke-linejoin="round"/>
<path d="M25.5,206.75 H41.1" fill="none" stroke="#005cbf" stroke-width="4.5" stroke-linecap="butt" stroke-linejoin="round"/>
<path d="M82.3,206.75 H97.9" fill="none" stroke="#005cbf" stroke-width="4.5" stroke-linecap="butt" stroke-linejoin="round"/>
<path d="M41.1,227.7 H82.3" fill="none" stroke="#005cbf" stroke-width="7" stroke-linecap="round" stroke-linejoin="round"/>
<path d="M82.3,227.7 H131" fill="none" stroke="#005cbf" stroke-width="7.5" stroke-linecap="round" stroke-linejoin="round"/>
<path d="M41.1,248.65 H82.3" fill="none" stroke="#005cbf" stroke-width="7" stroke-linecap="round" stroke-linejoin="round"/>
<path d="M82.3,248.65 H114 L144.5,279 V301" fill="none" stroke="#005cbf" stroke-width="7.5" stroke-linecap="round" stroke-linejoin="round"/>
<path d="M41.1,312.5 H82.3" fill="none" stroke="#005cbf" stroke-width="9.5" stroke-linecap="round" stroke-linejoin="round"/>
<path d="M25.5,333.45 H41.1" fill="none" stroke="#005cbf" stroke-width="4.5" stroke-linecap="butt" stroke-linejoin="round"/>
<path d="M82.3,333.45 H97.9" fill="none" stroke="#005cbf" stroke-width="4.5" stroke-linecap="butt" stroke-linejoin="round"/>
<path d="M41.1,354.4 H82.3" fill="none" stroke="#005cbf" stroke-width="7" stroke-linecap="round" stroke-linejoin="round"/>
<path d="M41.1,375.35 H82.3" fill="none" stroke="#005cbf" stroke-width="7" stroke-linecap="round" stroke-linejoin="round"/>
<path d="M82.3,375.35 H118.5" fill="none" stroke="#005cbf" stroke-width="7.5" stroke-linecap="round" stroke-linejoin="round"/>
<path d="M41.1,396.3 H82.3" fill="none" stroke="#005cbf" stroke-width="7" stroke-linecap="round" stroke-linejoin="round"/>
<path d="M25.5,417.25 H41.1" fill="none" stroke="#005cbf" stroke-width="4.5" stroke-linecap="butt" stroke-linejoin="round"/>
<path d="M82.3,417.25 H97.9" fill="none" stroke="#005cbf" stroke-width="4.5" stroke-linecap="butt" stroke-linejoin="round"/>
<path d="M41.1,438.2 H82.3" fill="none" stroke="#005cbf" stroke-width="7" stroke-linecap="round" stroke-linejoin="round"/>
<path d="M82.3,438.2 H131" fill="none" stroke="#005cbf" stroke-width="7.5" stroke-linecap="round" stroke-linejoin="round"/>
<path d="M41.1,459.15 H82.3" fill="none" stroke="#005cbf" stroke-width="7" stroke-linecap="round" stroke-linejoin="round"/>
<path d="M82.3,459.15 H144.5" fill="none" stroke="#005cbf" stroke-width="7.5" stroke-linecap="round" stroke-linejoin="round"/>
<path d="M41.1,523 H82.3" fill="none" stroke="#005cbf" stroke-width="9.5" stroke-linecap="round" stroke-linejoin="round"/>
<path d="M25.5,543.95 H41.1" fill="none" stroke="#005cbf" stroke-width="4.5" stroke-linecap="butt" stroke-linejoin="round"/>
<path d="M82.3,543.95 H97.9" fill="none" stroke="#005cbf" stroke-width="4.5" stroke-linecap="butt" stroke-linejoin="round"/>
<path d="M41.1,564.9 H82.3" fill="none" stroke="#005cbf" stroke-width="7" stroke-linecap="round" stroke-linejoin="round"/>
<path d="M41.1,585.85 H82.3" fill="none" stroke="#005cbf" stroke-width="7" stroke-linecap="round" stroke-linejoin="round"/>
<path d="M41.1,606.8 H82.3" fill="none" stroke="#005cbf" stroke-width="7" stroke-linecap="round" stroke-linejoin="round"/>
<path d="M25.5,627.75 H41.1" fill="none" stroke="#005cbf" stroke-width="4.5" stroke-linecap="butt" stroke-linejoin="round"/>
<path d="M82.3,627.75 H97.9" fill="none" stroke="#005cbf" stroke-width="4.5" stroke-linecap="butt" stroke-linejoin="round"/>
<path d="M41.1,648.7 H82.3" fill="none" stroke="#005cbf" stroke-width="7" stroke-linecap="round" stroke-linejoin="round"/>
<path d="M41.1,669.65 H82.3" fill="none" stroke="#005cbf" stroke-width="7" stroke-linecap="round" stroke-linejoin="round"/>
<path d="M746.3,170 H774.9" fill="none" stroke="#005cbf" stroke-width="4.5" stroke-linecap="butt" stroke-linejoin="round"/>
<path d="M760.6,155.7 V184.3" fill="none" stroke="#005cbf" stroke-width="4.5" stroke-linecap="butt" stroke-linejoin="round"/>
<path d="M788.2,170 H816.8" fill="none" stroke="#005cbf" stroke-width="4.5" stroke-linecap="butt" stroke-linejoin="round"/>
<path d="M802.5,155.7 V184.3" fill="none" stroke="#005cbf" stroke-width="4.5" stroke-linecap="butt" stroke-linejoin="round"/>
<path d="M746.3,190.97 H774.9" fill="none" stroke="#005cbf" stroke-width="4.5" stroke-linecap="butt" stroke-linejoin="round"/>
<path d="M760.6,176.67 V205.27" fill="none" stroke="#005cbf" stroke-width="4.5" stroke-linecap="butt" stroke-linejoin="round"/>
<path d="M788.2,190.97 H816.8" fill="none" stroke="#005cbf" stroke-width="4.5" stroke-linecap="butt" stroke-linejoin="round"/>
<path d="M802.5,176.67 V205.27" fill="none" stroke="#005cbf" stroke-width="4.5" stroke-linecap="butt" stroke-linejoin="round"/>
<path d="M760.6,211.94 H802.5" fill="none" stroke="#005cbf" stroke-width="7" stroke-linecap="round" stroke-linejoin="round"/>
<path d="M760.6,232.91 H802.5" fill="none" stroke="#005cbf" stroke-width="7" stroke-linecap="round" stroke-linejoin="round"/>
<path d="M760.6,253.88 H802.5" fill="none" stroke="#005cbf" stroke-width="7" stroke-linecap="round" stroke-linejoin="round"/>
<path d="M760.6,274.85 H802.5" fill="none" stroke="#005cbf" stroke-width="7" stroke-linecap="round" stroke-linejoin="round"/>
<path d="M760.6,295.82 H802.5" fill="none" stroke="#005cbf" stroke-width="6.5" stroke-linecap="round" stroke-linejoin="round"/>
<path d="M760.6,316.79 H802.5" fill="none" stroke="#005cbf" stroke-width="5.5" stroke-linecap="round" stroke-linejoin="round"/>
<path d="M760.6,337.76 H802.5" fill="none" stroke="#005cbf" stroke-width="5.5" stroke-linecap="round" stroke-linejoin="round"/>
<path d="M760.6,421.64 H802.5" fill="none" stroke="#005cbf" stroke-width="5.7" stroke-linecap="round" stroke-linejoin="round"/>
<path d="M760.6,442.61 H802.5" fill="none" stroke="#005cbf" stroke-width="7" stroke-linecap="round" stroke-linejoin="round"/>
<path d="M760.6,484.55 H802.5" fill="none" stroke="#005cbf" stroke-width="5.5" stroke-linecap="round" stroke-linejoin="round"/>
<path d="M760.6,505.52 H802.5" fill="none" stroke="#005cbf" stroke-width="9" stroke-linecap="round" stroke-linejoin="round"/>
<path d="M760.6,526.49 H802.5" fill="none" stroke="#005cbf" stroke-width="5.5" stroke-linecap="round" stroke-linejoin="round"/>
<path d="M760.6,547.46 H802.5" fill="none" stroke="#005cbf" stroke-width="6" stroke-linecap="round" stroke-linejoin="round"/>
<path d="M760.6,589.4 H802.5" fill="none" stroke="#005cbf" stroke-width="8.5" stroke-linecap="round" stroke-linejoin="round"/>
<path d="M760.6,631.34 H802.5" fill="none" stroke="#005cbf" stroke-width="8.5" stroke-linecap="round" stroke-linejoin="round"/>
<path d="M760.6,652.31 H802.5" fill="none" stroke="#005cbf" stroke-width="8" stroke-linecap="round" stroke-linejoin="round"/>
<path d="M760.6,694.25 H802.5" fill="none" stroke="#005cbf" stroke-width="6" stroke-linecap="round" stroke-linejoin="round"/>
<path d="M760.6,715.22 H802.5" fill="none" stroke="#005cbf" stroke-width="6" stroke-linecap="round" stroke-linejoin="round"/>
<path d="M760.6,736.19 H802.5" fill="none" stroke="#005cbf" stroke-width="6" stroke-linecap="round" stroke-linejoin="round"/>
<path d="M802.5,442.61 H810.5 L823,455.5 V612 L802.5,631.34" fill="none" stroke="#005cbf" stroke-width="10" stroke-linecap="round" stroke-linejoin="round"/>
<path d="M508.6,37 V78" fill="none" stroke="#005cbf" stroke-width="8" stroke-linecap="round" stroke-linejoin="round"/>
<path d="M529.56,37 V78" fill="none" stroke="#005cbf" stroke-width="8" stroke-linecap="round" stroke-linejoin="round"/>
<path d="M550.52,37 V78" fill="none" stroke="#005cbf" stroke-width="8" stroke-linecap="round" stroke-linejoin="round"/>
<path d="M571.48,37 V78" fill="none" stroke="#005cbf" stroke-width="8" stroke-linecap="round" stroke-linejoin="round"/>
<path d="M592.44,37 V78" fill="none" stroke="#005cbf" stroke-width="8" stroke-linecap="round" stroke-linejoin="round"/>
<path d="M613.4,37 V78" fill="none" stroke="#005cbf" stroke-width="8" stroke-linecap="round" stroke-linejoin="round"/>
<path d="M78.9,759.7 H94.5" fill="none" stroke="#005cbf" stroke-width="4.5" stroke-linecap="butt" stroke-linejoin="round"/>
<path d="M78.9,801.1 H94.5" fill="none" stroke="#005cbf" stroke-width="4.5" stroke-linecap="butt" stroke-linejoin="round"/>
<path d="M115.53,759.7 V801.1" fill="none" stroke="#005cbf" stroke-width="8" stroke-linecap="round" stroke-linejoin="round"/>
<path d="M136.56,759.7 V801.1" fill="none" stroke="#005cbf" stroke-width="8" stroke-linecap="round" stroke-linejoin="round"/>
<path d="M136.7,713.6 V735 L136.56,745 V759.7" fill="none" stroke="#005cbf" stroke-width="5.6" stroke-linecap="round" stroke-linejoin="round"/>
<path d="M157.59,759.7 V801.1" fill="none" stroke="#005cbf" stroke-width="8" stroke-linecap="round" stroke-linejoin="round"/>
<path d="M157.6,713.6 V735 L157.59,745 V759.7" fill="none" stroke="#005cbf" stroke-width="5.6" stroke-linecap="round" stroke-linejoin="round"/>
<path d="M178.62,759.7 V801.1" fill="none" stroke="#005cbf" stroke-width="8" stroke-linecap="round" stroke-linejoin="round"/>
<path d="M178.8,713.6 V735 L178.62,745 V759.7" fill="none" stroke="#005cbf" stroke-width="5.6" stroke-linecap="round" stroke-linejoin="round"/>
<path d="M199.65,759.7 V801.1" fill="none" stroke="#005cbf" stroke-width="8" stroke-linecap="round" stroke-linejoin="round"/>
<path d="M198.4,713.6 V735 L199.65,745 V759.7" fill="none" stroke="#005cbf" stroke-width="5.6" stroke-linecap="round" stroke-linejoin="round"/>
<path d="M136.7,697.4 H198.4" fill="none" stroke="#005cbf" stroke-width="3" stroke-linecap="round" stroke-linejoin="round"/>
<path d="M372.8,383 V467" fill="none" stroke="#005cbf" stroke-width="3.4" stroke-linecap="round" stroke-linejoin="round"/>
<path d="M388.5,383.4 L411.3,382" fill="none" stroke="#005cbf" stroke-width="5" stroke-linecap="round" stroke-linejoin="round"/>
<path d="M388.5,404 L411.3,402.98" fill="none" stroke="#005cbf" stroke-width="5" stroke-linecap="round" stroke-linejoin="round"/>
<path d="M388.5,443 L411.3,444.94" fill="none" stroke="#005cbf" stroke-width="5" stroke-linecap="round" stroke-linejoin="round"/>
<path d="M388.5,467.2 L411.3,465.92" fill="none" stroke="#005cbf" stroke-width="5" stroke-linecap="round" stroke-linejoin="round"/>
<path d="M712.4,210 V291 L709.5,295" fill="none" stroke="#005cbf" stroke-width="3.2" stroke-linecap="round" stroke-linejoin="round"/>
<path d="M728.3,210.6 L748,211.94 H760.6" fill="none" stroke="#005cbf" stroke-width="7" stroke-linecap="round" stroke-linejoin="round"/>
<path d="M728.3,231.2 L748,232.91 H760.6" fill="none" stroke="#005cbf" stroke-width="7" stroke-linecap="round" stroke-linejoin="round"/>
<path d="M728.3,253 L748,253.88 H760.6" fill="none" stroke="#005cbf" stroke-width="7" stroke-linecap="round" stroke-linejoin="round"/>
<path d="M728.3,275.6 L748,274.85 H760.6" fill="none" stroke="#005cbf" stroke-width="7" stroke-linecap="round" stroke-linejoin="round"/>
<path d="M597.6,366.3 H589 L567.5,387.7 H552.7 L483,457.5 H447.3 L429.6,475.2 V581 L418.5,592 H411.3" fill="none" stroke="#005cbf" stroke-width="3.5" stroke-linecap="round" stroke-linejoin="round"/>
<path d="M448,471.3 L440.4,479 V586 L414,612.4 H411.3" fill="none" stroke="#005cbf" stroke-width="3.5" stroke-linecap="round" stroke-linejoin="round"/>
<path d="M245.2,218 V341.5" fill="none" stroke="#005cbf" stroke-width="5.5" stroke-linecap="round" stroke-linejoin="round"/>
<path d="M254.5,205.5 V309 L286.4,341.5" fill="none" stroke="#005cbf" stroke-width="5.5" stroke-linecap="round" stroke-linejoin="round"/>
<path d="M245.2,218 V341.5" fill="none" stroke="#005cbf" stroke-width="5.5" stroke-linecap="round" stroke-linejoin="round"/>
<path d="M254.5,205.5 V309 L286.4,341.5" fill="none" stroke="#005cbf" stroke-width="5.5" stroke-linecap="round" stroke-linejoin="round"/>
<circle cx="254.5" cy="205.5" r="3.6" fill="#005cbf"/>
<circle cx="510.8" cy="314.5" r="3.6" fill="#005cbf"/>
<circle cx="597.7" cy="300.7" r="3.6" fill="#005cbf"/>
<circle cx="472.3" cy="376.6" r="3.6" fill="#005cbf"/>
<circle cx="541" cy="377.5" r="3.6" fill="#005cbf"/>
<circle cx="597.6" cy="366.3" r="3.6" fill="#005cbf"/>
<circle cx="220.8" cy="536.8" r="3.6" fill="#005cbf"/>
<circle cx="220.8" cy="587.5" r="3.6" fill="#005cbf"/>
<circle cx="323" cy="729.5" r="3.6" fill="#005cbf"/>
<circle cx="563.8" cy="645.6" r="3.6" fill="#005cbf"/>
<circle cx="563.8" cy="620.3" r="3.6" fill="#005cbf"/>
<circle cx="592" cy="792.5" r="3.3" fill="#005cbf"/>
<circle cx="592" cy="803.5" r="3.3" fill="#005cbf"/>
<path d="M526,540.5 L518.4,548 V642 L513.8,648 V675.5" fill="none" stroke="#005cbf" stroke-width="3.2" stroke-linecap="round" stroke-linejoin="round"/>
<circle cx="526" cy="540.5" r="3.6" fill="#005cbf"/>
<circle cx="513.8" cy="675.5" r="2.5" fill="#005cbf"/>
<path d="M251.7,55.5 H277.3" fill="none" stroke="#005cbf" stroke-width="6" stroke-linecap="butt" stroke-linejoin="round"/>
<path d="M264.5,42.7 V68.3" fill="none" stroke="#005cbf" stroke-width="6" stroke-linecap="butt" stroke-linejoin="round"/>
<path d="M346.2,55.5 H371.8" fill="none" stroke="#005cbf" stroke-width="6" stroke-linecap="butt" stroke-linejoin="round"/>
<path d="M359,42.7 V68.3" fill="none" stroke="#005cbf" stroke-width="6" stroke-linecap="butt" stroke-linejoin="round"/>
<path d="M199.8,88 H223.2" fill="none" stroke="#005cbf" stroke-width="4" stroke-linecap="butt" stroke-linejoin="round"/>
<path d="M211.5,76.3 V99.7" fill="none" stroke="#005cbf" stroke-width="4" stroke-linecap="butt" stroke-linejoin="round"/>
<path d="M327.8,116.2 V141.8" fill="none" stroke="#005cbf" stroke-width="5" stroke-linecap="butt" stroke-linejoin="round"/>
<path d="M349,116 V142 M336,129 H362" fill="none" stroke="#005cbf" stroke-width="5" stroke-linecap="butt" stroke-linejoin="round"/>
<path d="M343.8,208 V234 M330,221.2 H357" fill="none" stroke="#005cbf" stroke-width="5" stroke-linecap="butt" stroke-linejoin="round"/>
<path d="M488.3,708.8 H514.3" fill="none" stroke="#005cbf" stroke-width="4.5" stroke-linecap="butt" stroke-linejoin="round"/>
<path d="M501.3,695.8 V721.8" fill="none" stroke="#005cbf" stroke-width="4.5" stroke-linecap="butt" stroke-linejoin="round"/>
<path d="M448,619.7 H473.4" fill="none" stroke="#005cbf" stroke-width="4.5" stroke-linecap="butt" stroke-linejoin="round"/>
<path d="M460.7,607 V632.4" fill="none" stroke="#005cbf" stroke-width="4.5" stroke-linecap="butt" stroke-linejoin="round"/>
<circle cx="460.3" cy="163.8" r="3.1" fill="#005cbf"/>
<circle cx="460.3" cy="171.5" r="3.1" fill="#005cbf"/>
<circle cx="460.3" cy="179.2" r="3.1" fill="#005cbf"/>
<circle cx="468" cy="163.8" r="3.1" fill="#005cbf"/>
<circle cx="468" cy="171.5" r="3.1" fill="#005cbf"/>
<circle cx="468" cy="179.2" r="3.1" fill="#005cbf"/>
<circle cx="475.7" cy="163.8" r="3.1" fill="#005cbf"/>
<circle cx="475.7" cy="171.5" r="3.1" fill="#005cbf"/>
<circle cx="475.7" cy="179.2" r="3.1" fill="#005cbf"/>
<circle cx="164.2" cy="75.5" r="3.3" fill="#005cbf"/>
<circle cx="173.6" cy="75.5" r="3.3" fill="#005cbf"/>
<circle cx="192.8" cy="209.2" r="3.3" fill="#005cbf"/>
<circle cx="201" cy="209.2" r="3.3" fill="#005cbf"/>
<circle cx="518.5" cy="498.1" r="3.3" fill="#005cbf"/>
<circle cx="526.5" cy="498.1" r="3.3" fill="#005cbf"/>
<path d="M388,591.6 H411.3" fill="none" stroke="#005cbf" stroke-width="4" stroke-linecap="round" stroke-linejoin="round"/>
<path d="M360,654.8 H371" fill="none" stroke="#005cbf" stroke-width="5" stroke-linecap="butt" stroke-linejoin="round"/>
<path d="M388,654.8 H411.3" fill="none" stroke="#005cbf" stroke-width="4" stroke-linecap="round" stroke-linejoin="round"/>
<path d="M285.4,780.6 H307" fill="none" stroke="#005cbf" stroke-width="5.5" stroke-linecap="round" stroke-linejoin="round"/></g>
<g id="gold"><rect x="31.1" y="94" width="20" height="16" fill="#e2b748"/>
<rect x="72.3" y="94" width="20" height="16" rx="8" fill="#e2b748"/>
<rect x="31.1" y="114.95" width="20" height="16" rx="8" fill="#e2b748"/>
<rect x="72.3" y="114.95" width="20" height="16" rx="8" fill="#e2b748"/>
<rect x="31.1" y="135.9" width="20" height="16" rx="8" fill="#e2b748"/>
<rect x="72.3" y="135.9" width="20" height="16" rx="8" fill="#e2b748"/>
<rect x="31.1" y="156.85" width="20" height="16" rx="8" fill="#e2b748"/>
<rect x="72.3" y="156.85" width="20" height="16" rx="8" fill="#e2b748"/>
<rect x="31.1" y="177.8" width="20" height="16" rx="8" fill="#e2b748"/>
<rect x="72.3" y="177.8" width="20" height="16" rx="8" fill="#e2b748"/>
<rect x="31.1" y="198.75" width="20" height="16" rx="8" fill="#e2b748"/>
<rect x="72.3" y="198.75" width="20" height="16" rx="8" fill="#e2b748"/>
<rect x="31.1" y="219.7" width="20" height="16" rx="8" fill="#e2b748"/>
<rect x="72.3" y="219.7" width="20" height="16" rx="8" fill="#e2b748"/>
<rect x="31.1" y="240.65" width="20" height="16" rx="8" fill="#e2b748"/>
<rect x="72.3" y="240.65" width="20" height="16" rx="8" fill="#e2b748"/>
<rect x="31.1" y="304.5" width="20" height="16" fill="#e2b748"/>
<rect x="72.3" y="304.5" width="20" height="16" rx="8" fill="#e2b748"/>
<rect x="31.1" y="325.45" width="20" height="16" rx="8" fill="#e2b748"/>
<rect x="72.3" y="325.45" width="20" height="16" rx="8" fill="#e2b748"/>
<rect x="31.1" y="346.4" width="20" height="16" rx="8" fill="#e2b748"/>
<rect x="72.3" y="346.4" width="20" height="16" rx="8" fill="#e2b748"/>
<rect x="31.1" y="367.35" width="20" height="16" rx="8" fill="#e2b748"/>
<rect x="72.3" y="367.35" width="20" height="16" rx="8" fill="#e2b748"/>
<rect x="31.1" y="388.3" width="20" height="16" rx="8" fill="#e2b748"/>
<rect x="72.3" y="388.3" width="20" height="16" rx="8" fill="#e2b748"/>
<rect x="31.1" y="409.25" width="20" height="16" rx="8" fill="#e2b748"/>
<rect x="72.3" y="409.25" width="20" height="16" rx="8" fill="#e2b748"/>
<rect x="31.1" y="430.2" width="20" height="16" rx="8" fill="#e2b748"/>
<rect x="72.3" y="430.2" width="20" height="16" rx="8" fill="#e2b748"/>
<rect x="31.1" y="451.15" width="20" height="16" rx="8" fill="#e2b748"/>
<rect x="72.3" y="451.15" width="20" height="16" rx="8" fill="#e2b748"/>
<rect x="31.1" y="515" width="20" height="16" fill="#e2b748"/>
<rect x="72.3" y="515" width="20" height="16" rx="8" fill="#e2b748"/>
<rect x="31.1" y="535.95" width="20" height="16" rx="8" fill="#e2b748"/>
<rect x="72.3" y="535.95" width="20" height="16" rx="8" fill="#e2b748"/>
<rect x="31.1" y="556.9" width="20" height="16" rx="8" fill="#e2b748"/>
<rect x="72.3" y="556.9" width="20" height="16" rx="8" fill="#e2b748"/>
<rect x="31.1" y="577.85" width="20" height="16" rx="8" fill="#e2b748"/>
<rect x="72.3" y="577.85" width="20" height="16" rx="8" fill="#e2b748"/>
<rect x="31.1" y="598.8" width="20" height="16" rx="8" fill="#e2b748"/>
<rect x="72.3" y="598.8" width="20" height="16" rx="8" fill="#e2b748"/>
<rect x="31.1" y="619.75" width="20" height="16" rx="8" fill="#e2b748"/>
<rect x="72.3" y="619.75" width="20" height="16" rx="8" fill="#e2b748"/>
<rect x="31.1" y="640.7" width="20" height="16" rx="8" fill="#e2b748"/>
<rect x="72.3" y="640.7" width="20" height="16" rx="8" fill="#e2b748"/>
<rect x="31.1" y="661.65" width="20" height="16" rx="8" fill="#e2b748"/>
<rect x="72.3" y="661.65" width="20" height="16" rx="8" fill="#e2b748"/>
<ellipse cx="760.6" cy="170" rx="8.4" ry="8.4" fill="#e2b748"/>
<ellipse cx="802.5" cy="170" rx="8.4" ry="8.4" fill="#e2b748"/>
<ellipse cx="760.6" cy="190.97" rx="8.4" ry="8.4" fill="#e2b748"/>
<ellipse cx="802.5" cy="190.97" rx="8.4" ry="8.4" fill="#e2b748"/>
<ellipse cx="760.6" cy="211.94" rx="8.4" ry="8.4" fill="#e2b748"/>
<ellipse cx="802.5" cy="211.94" rx="8.4" ry="8.4" fill="#e2b748"/>
<ellipse cx="760.6" cy="232.91" rx="8.4" ry="8.4" fill="#e2b748"/>
<ellipse cx="802.5" cy="232.91" rx="8.4" ry="8.4" fill="#e2b748"/>
<ellipse cx="760.6" cy="253.88" rx="8.4" ry="8.4" fill="#e2b748"/>
<ellipse cx="802.5" cy="253.88" rx="8.4" ry="8.4" fill="#e2b748"/>
<ellipse cx="760.6" cy="274.85" rx="8.4" ry="8.4" fill="#e2b748"/>
<ellipse cx="802.5" cy="274.85" rx="8.4" ry="8.4" fill="#e2b748"/>
<ellipse cx="760.6" cy="295.82" rx="8.4" ry="8.4" fill="#e2b748"/>
<ellipse cx="802.5" cy="295.82" rx="8.4" ry="8.4" fill="#e2b748"/>
<ellipse cx="760.6" cy="316.79" rx="8.4" ry="8.4" fill="#e2b748"/>
<ellipse cx="802.5" cy="316.79" rx="8.4" ry="8.4" fill="#e2b748"/>
<ellipse cx="760.6" cy="337.76" rx="8.4" ry="8.4" fill="#e2b748"/>
<ellipse cx="802.5" cy="337.76" rx="8.4" ry="8.4" fill="#e2b748"/>
<ellipse cx="760.6" cy="358.73" rx="8.4" ry="8.4" fill="#e2b748"/>
<ellipse cx="802.5" cy="358.73" rx="8.4" ry="8.4" fill="#e2b748"/>
<ellipse cx="760.6" cy="379.7" rx="8.4" ry="8.4" fill="#e2b748"/>
<ellipse cx="802.5" cy="379.7" rx="8.4" ry="8.4" fill="#e2b748"/>
<ellipse cx="760.6" cy="400.67" rx="8.4" ry="8.4" fill="#e2b748"/>
<ellipse cx="802.5" cy="400.67" rx="8.4" ry="8.4" fill="#e2b748"/>
<ellipse cx="760.6" cy="421.64" rx="8.4" ry="8.4" fill="#e2b748"/>
<ellipse cx="802.5" cy="421.64" rx="8.4" ry="8.4" fill="#e2b748"/>
<ellipse cx="760.6" cy="442.61" rx="8.4" ry="8.4" fill="#e2b748"/>
<ellipse cx="802.5" cy="442.61" rx="8.4" ry="8.4" fill="#e2b748"/>
<ellipse cx="760.6" cy="463.58" rx="8.4" ry="8.4" fill="#e2b748"/>
<ellipse cx="802.5" cy="463.58" rx="8.4" ry="8.4" fill="#e2b748"/>
<ellipse cx="760.6" cy="484.55" rx="8.4" ry="8.4" fill="#e2b748"/>
<ellipse cx="802.5" cy="484.55" rx="8.4" ry="8.4" fill="#e2b748"/>
<ellipse cx="760.6" cy="505.52" rx="8.4" ry="8.4" fill="#e2b748"/>
<ellipse cx="802.5" cy="505.52" rx="8.4" ry="8.4" fill="#e2b748"/>
<ellipse cx="760.6" cy="526.49" rx="8.4" ry="8.4" fill="#e2b748"/>
<ellipse cx="802.5" cy="526.49" rx="8.4" ry="8.4" fill="#e2b748"/>
<ellipse cx="760.6" cy="547.46" rx="8.4" ry="8.4" fill="#e2b748"/>
<ellipse cx="802.5" cy="547.46" rx="8.4" ry="8.4" fill="#e2b748"/>
<ellipse cx="760.6" cy="568.43" rx="8.4" ry="8.4" fill="#e2b748"/>
<ellipse cx="802.5" cy="568.43" rx="8.4" ry="8.4" fill="#e2b748"/>
<ellipse cx="760.6" cy="589.4" rx="8.4" ry="8.4" fill="#e2b748"/>
<ellipse cx="802.5" cy="589.4" rx="8.4" ry="8.4" fill="#e2b748"/>
<ellipse cx="760.6" cy="610.37" rx="8.4" ry="8.4" fill="#e2b748"/>
<ellipse cx="802.5" cy="610.37" rx="8.4" ry="8.4" fill="#e2b748"/>
<ellipse cx="760.6" cy="631.34" rx="8.4" ry="8.4" fill="#e2b748"/>
<ellipse cx="802.5" cy="631.34" rx="8.4" ry="8.4" fill="#e2b748"/>
<ellipse cx="760.6" cy="652.31" rx="8.4" ry="8.4" fill="#e2b748"/>
<ellipse cx="802.5" cy="652.31" rx="8.4" ry="8.4" fill="#e2b748"/>
<ellipse cx="760.6" cy="673.28" rx="8.4" ry="8.4" fill="#e2b748"/>
<ellipse cx="802.5" cy="673.28" rx="8.4" ry="8.4" fill="#e2b748"/>
<ellipse cx="760.6" cy="694.25" rx="8.4" ry="8.4" fill="#e2b748"/>
<ellipse cx="802.5" cy="694.25" rx="8.4" ry="8.4" fill="#e2b748"/>
<ellipse cx="760.6" cy="715.22" rx="8.4" ry="8.4" fill="#e2b748"/>
<ellipse cx="802.5" cy="715.22" rx="8.4" ry="8.4" fill="#e2b748"/>
<ellipse cx="760.6" cy="736.19" rx="8.4" ry="8.4" fill="#e2b748"/>
<rect x="795.3" y="728.99" width="14.4" height="14.4" fill="#e2b748"/>
<rect x="500.9" y="26.6" width="15.4" height="20.8" rx="7.7" fill="#e2b748"/>
<rect x="500.9" y="67.6" width="15.4" height="20.8" fill="#e2b748"/>
<rect x="521.86" y="26.6" width="15.4" height="20.8" rx="7.7" fill="#e2b748"/>
<rect x="521.86" y="67.6" width="15.4" height="20.8" rx="7.7" fill="#e2b748"/>
<rect x="542.82" y="26.6" width="15.4" height="20.8" rx="7.7" fill="#e2b748"/>
<rect x="542.82" y="67.6" width="15.4" height="20.8" rx="7.7" fill="#e2b748"/>
<rect x="563.78" y="26.6" width="15.4" height="20.8" rx="7.7" fill="#e2b748"/>
<rect x="563.78" y="67.6" width="15.4" height="20.8" rx="7.7" fill="#e2b748"/>
<rect x="584.74" y="26.6" width="15.4" height="20.8" rx="7.7" fill="#e2b748"/>
<rect x="584.74" y="67.6" width="15.4" height="20.8" rx="7.7" fill="#e2b748"/>
<rect x="605.7" y="26.6" width="15.4" height="20.8" rx="7.7" fill="#e2b748"/>
<rect x="605.7" y="67.6" width="15.4" height="20.8" rx="7.7" fill="#e2b748"/>
<rect x="626.66" y="26.6" width="15.4" height="20.8" rx="7.7" fill="#e2b748"/>
<rect x="626.66" y="67.6" width="15.4" height="20.8" rx="7.7" fill="#e2b748"/>
<rect x="647.62" y="26.6" width="15.4" height="20.8" rx="7.7" fill="#e2b748"/>
<rect x="647.62" y="67.6" width="15.4" height="20.8" rx="7.7" fill="#e2b748"/>
<rect x="87.3" y="749.7" width="14.4" height="20" rx="7.2" fill="#e2b748"/>
<rect x="87.3" y="791.1" width="14.4" height="20" rx="7.2" fill="#e2b748"/>
<rect x="108.33" y="749.7" width="14.4" height="20" rx="7.2" fill="#e2b748"/>
<rect x="108.33" y="791.1" width="14.4" height="20" rx="7.2" fill="#e2b748"/>
<rect x="129.36" y="749.7" width="14.4" height="20" rx="7.2" fill="#e2b748"/>
<rect x="129.36" y="791.1" width="14.4" height="20" rx="7.2" fill="#e2b748"/>
<rect x="150.39" y="749.7" width="14.4" height="20" rx="7.2" fill="#e2b748"/>
<rect x="150.39" y="791.1" width="14.4" height="20" rx="7.2" fill="#e2b748"/>
<rect x="171.42" y="749.7" width="14.4" height="20" rx="7.2" fill="#e2b748"/>
<rect x="171.42" y="791.1" width="14.4" height="20" rx="7.2" fill="#e2b748"/>
<rect x="192.45" y="749.7" width="14.4" height="20" fill="#e2b748"/>
<rect x="192.45" y="791.1" width="14.4" height="20" rx="7.2" fill="#e2b748"/>
<rect x="213.48" y="749.7" width="14.4" height="20" rx="7.2" fill="#e2b748"/>
<rect x="213.48" y="791.1" width="14.4" height="20" rx="7.2" fill="#e2b748"/>
<rect x="234.51" y="749.7" width="14.4" height="20" rx="7.2" fill="#e2b748"/>
<rect x="234.51" y="791.1" width="14.4" height="20" rx="7.2" fill="#e2b748"/>
<rect x="129.95" y="691.5" width="13.5" height="11.8" fill="#e2b748"/>
<rect x="129.95" y="707.5" width="13.5" height="12.2" fill="#e2b748"/>
<rect x="150.85" y="691.5" width="13.5" height="11.8" fill="#e2b748"/>
<rect x="150.85" y="707.5" width="13.5" height="12.2" fill="#e2b748"/>
<rect x="172.05" y="691.5" width="13.5" height="11.8" fill="#e2b748"/>
<rect x="172.05" y="707.5" width="13.5" height="12.2" fill="#e2b748"/>
<rect x="191.65" y="691.5" width="13.5" height="11.8" fill="#e2b748"/>
<rect x="191.65" y="707.5" width="13.5" height="12.2" fill="#e2b748"/>
<ellipse cx="285.6" cy="382" rx="7.7" ry="7.7" fill="#e2b748"/>
<ellipse cx="285.6" cy="402.98" rx="7.7" ry="7.7" fill="#e2b748"/>
<ellipse cx="285.6" cy="423.96" rx="7.7" ry="7.7" fill="#e2b748"/>
<ellipse cx="285.6" cy="444.94" rx="7.7" ry="7.7" fill="#e2b748"/>
<ellipse cx="285.6" cy="465.92" rx="7.7" ry="7.7" fill="#e2b748"/>
<ellipse cx="285.6" cy="486.9" rx="7.7" ry="7.7" fill="#e2b748"/>
<ellipse cx="285.6" cy="507.88" rx="7.7" ry="7.7" fill="#e2b748"/>
<ellipse cx="285.6" cy="528.86" rx="7.7" ry="7.7" fill="#e2b748"/>
<ellipse cx="285.6" cy="549.84" rx="7.7" ry="7.7" fill="#e2b748"/>
<ellipse cx="285.6" cy="570.82" rx="7.7" ry="7.7" fill="#e2b748"/>
<ellipse cx="285.6" cy="591.8" rx="7.7" ry="7.7" fill="#e2b748"/>
<ellipse cx="285.6" cy="612.78" rx="7.7" ry="7.7" fill="#e2b748"/>
<ellipse cx="285.6" cy="633.76" rx="7.7" ry="7.7" fill="#e2b748"/>
<ellipse cx="285.6" cy="654.74" rx="7.7" ry="7.7" fill="#e2b748"/>
<ellipse cx="285.6" cy="675.72" rx="7.7" ry="7.7" fill="#e2b748"/>
<ellipse cx="285.6" cy="696.7" rx="7.7" ry="7.7" fill="#e2b748"/>
<ellipse cx="285.6" cy="717.68" rx="7.7" ry="7.7" fill="#e2b748"/>
<ellipse cx="285.6" cy="738.66" rx="7.7" ry="7.7" fill="#e2b748"/>
<ellipse cx="285.6" cy="759.64" rx="7.7" ry="7.7" fill="#e2b748"/>
<rect x="277.5" y="774.1" width="15.8" height="12.8" fill="#e2b748"/>
<ellipse cx="411.3" cy="382" rx="7.7" ry="7.7" fill="#e2b748"/>
<ellipse cx="411.3" cy="402.98" rx="7.7" ry="7.7" fill="#e2b748"/>
<ellipse cx="411.3" cy="423.96" rx="7.7" ry="7.7" fill="#e2b748"/>
<ellipse cx="411.3" cy="444.94" rx="7.7" ry="7.7" fill="#e2b748"/>
<ellipse cx="411.3" cy="465.92" rx="7.7" ry="7.7" fill="#e2b748"/>
<ellipse cx="411.3" cy="486.9" rx="7.7" ry="7.7" fill="#e2b748"/>
<ellipse cx="411.3" cy="507.88" rx="7.7" ry="7.7" fill="#e2b748"/>
<ellipse cx="411.3" cy="528.86" rx="7.7" ry="7.7" fill="#e2b748"/>
<ellipse cx="411.3" cy="549.84" rx="7.7" ry="7.7" fill="#e2b748"/>
<ellipse cx="411.3" cy="570.82" rx="7.7" ry="7.7" fill="#e2b748"/>
<ellipse cx="411.3" cy="591.8" rx="7.7" ry="7.7" fill="#e2b748"/>
<ellipse cx="411.3" cy="612.78" rx="7.7" ry="7.7" fill="#e2b748"/>
<ellipse cx="411.3" cy="633.76" rx="7.7" ry="7.7" fill="#e2b748"/>
<ellipse cx="411.3" cy="654.74" rx="7.7" ry="7.7" fill="#e2b748"/>
<ellipse cx="411.3" cy="675.72" rx="7.7" ry="7.7" fill="#e2b748"/>
<ellipse cx="411.3" cy="696.7" rx="7.7" ry="7.7" fill="#e2b748"/>
<ellipse cx="411.3" cy="717.68" rx="7.7" ry="7.7" fill="#e2b748"/>
<ellipse cx="411.3" cy="738.66" rx="7.7" ry="7.7" fill="#e2b748"/>
<ellipse cx="411.3" cy="759.64" rx="7.7" ry="7.7" fill="#e2b748"/>
<ellipse cx="411.3" cy="780.62" rx="7.7" ry="7.7" fill="#e2b748"/>
<ellipse cx="264.8" cy="634.5" rx="7.7" ry="7.7" fill="#e2b748"/>
<ellipse cx="264.8" cy="676" rx="7.7" ry="7.7" fill="#e2b748"/>
<ellipse cx="264.8" cy="697" rx="7.7" ry="7.7" fill="#e2b748"/>
<ellipse cx="264.8" cy="718" rx="7.7" ry="7.7" fill="#e2b748"/>
<ellipse cx="264.8" cy="739" rx="7.7" ry="7.7" fill="#e2b748"/>
<rect x="367.1" y="377" width="11.6" height="12.8" fill="#e2b748"/>
<rect x="382.35" y="377" width="12.3" height="12.8" fill="#e2b748"/>
<rect x="367.1" y="397.6" width="11.6" height="12.8" fill="#e2b748"/>
<rect x="382.35" y="397.6" width="12.3" height="12.8" fill="#e2b748"/>
<rect x="367.1" y="436.6" width="11.6" height="12.8" fill="#e2b748"/>
<rect x="382.35" y="436.6" width="12.3" height="12.8" fill="#e2b748"/>
<rect x="367.1" y="460.8" width="11.6" height="12.8" fill="#e2b748"/>
<rect x="382.35" y="460.8" width="12.3" height="12.8" fill="#e2b748"/>
<rect x="707.05" y="204.2" width="11.7" height="12.8" fill="#e2b748"/>
<rect x="722.6" y="204.2" width="11.4" height="12.8" fill="#e2b748"/>
<rect x="707.05" y="224.8" width="11.7" height="12.8" fill="#e2b748"/>
<rect x="722.6" y="224.8" width="11.4" height="12.8" fill="#e2b748"/>
<rect x="707.05" y="246.6" width="11.7" height="12.8" fill="#e2b748"/>
<rect x="722.6" y="246.6" width="11.4" height="12.8" fill="#e2b748"/>
<rect x="707.05" y="269.2" width="11.7" height="12.8" fill="#e2b748"/>
<rect x="722.6" y="269.2" width="11.4" height="12.8" fill="#e2b748"/>
<ellipse cx="456.3" cy="487" rx="6.3" ry="6.3" fill="#e2b748"/>
<ellipse cx="456.3" cy="508" rx="6.3" ry="6.3" fill="#e2b748"/>
<ellipse cx="456.3" cy="529" rx="6.3" ry="6.3" fill="#e2b748"/>
<ellipse cx="456.3" cy="550" rx="6.3" ry="6.3" fill="#e2b748"/>
<rect x="450" y="564.7" width="12.6" height="12.6" fill="#e2b748"/>
<rect x="195.4" y="335.1" width="13.2" height="13.2" fill="#e2b748"/>
<ellipse cx="223.2" cy="341.5" rx="6.5" ry="6.5" fill="#e2b748"/>
<ellipse cx="244.4" cy="341.5" rx="6.5" ry="6.5" fill="#e2b748"/>
<ellipse cx="265.5" cy="341.5" rx="6.5" ry="6.5" fill="#e2b748"/>
<ellipse cx="286.4" cy="341.5" rx="6.5" ry="6.5" fill="#e2b748"/>
<ellipse cx="264.5" cy="55.5" rx="7.5" ry="7.5" fill="#e2b748"/>
<rect x="298.8" y="48.5" width="14" height="14" fill="#e2b748"/>
<ellipse cx="359" cy="55.5" rx="7.5" ry="7.5" fill="#e2b748"/>
<rect x="393.8" y="48.5" width="14" height="14" fill="#e2b748"/>
<ellipse cx="211.5" cy="88" rx="6.5" ry="6.5" fill="#e2b748"/>
<rect x="205" y="103" width="13" height="13" fill="#e2b748"/>
<ellipse cx="307" cy="129" rx="8" ry="8" fill="#e2b748"/>
<ellipse cx="327.8" cy="129" rx="8" ry="8" fill="#e2b748"/>
<rect x="341" y="121" width="16" height="16" fill="#e2b748"/>
<ellipse cx="231.5" cy="227.5" rx="7" ry="7" fill="#e2b748"/>
<rect x="224.5" y="241.8" width="14" height="14" fill="#e2b748"/>
<rect x="336.3" y="213.7" width="15" height="15" fill="#e2b748"/>
<rect x="336.3" y="233.5" width="15" height="17" rx="7.5" fill="#e2b748"/>
<rect x="336.3" y="254.5" width="15" height="17" rx="7.5" fill="#e2b748"/>
<ellipse cx="710.5" cy="88.5" rx="9" ry="9" fill="#e2b748"/>
<rect x="764.5" y="80" width="17" height="17" fill="#e2b748"/>
<ellipse cx="638.5" cy="146.5" rx="6.5" ry="6.5" fill="#e2b748"/>
<rect x="652.5" y="140" width="13" height="13" fill="#e2b748"/>
<rect x="171.5" y="499.3" width="13" height="13" fill="#e2b748"/>
<ellipse cx="199.3" cy="505.8" rx="7" ry="7" fill="#e2b748"/>
<rect x="214.2" y="642.1" width="13" height="13" fill="#e2b748"/>
<ellipse cx="220.7" cy="669.4" rx="6.5" ry="6.5" fill="#e2b748"/>
<rect x="466.1" y="702.3" width="13" height="13" fill="#e2b748"/>
<ellipse cx="501.3" cy="708.8" rx="6" ry="6" fill="#e2b748"/>
<ellipse cx="559.3" cy="725.7" rx="7.5" ry="7.5" fill="#e2b748"/>
<ellipse cx="603.6" cy="725.7" rx="7.5" ry="7.5" fill="#e2b748"/>
<ellipse cx="512.7" cy="771.8" rx="7" ry="7" fill="#e2b748"/>
<rect x="505.7" y="786" width="14" height="14" fill="#e2b748"/>
<ellipse cx="460.7" cy="619.7" rx="7.1" ry="7.1" fill="#e2b748"/>
<ellipse cx="505.6" cy="619.5" rx="7.5" ry="7.5" fill="#e2b748"/>
<rect x="673.5" y="803.1" width="13" height="13" fill="#e2b748"/>
<ellipse cx="701.5" cy="809.6" rx="6.5" ry="6.5" fill="#e2b748"/>
<rect x="642.7" y="556.7" width="26.5" height="48.9" fill="#e2b748"/>
<rect x="705.7" y="556.7" width="26.3" height="63.9" fill="#e2b748"/>
<rect x="366.4" y="585.3" width="10" height="13" fill="#e2b748"/>
<rect x="382.8" y="585.3" width="10" height="13" fill="#e2b748"/>
<rect x="366.4" y="648.2" width="10" height="13" fill="#e2b748"/>
<rect x="382.8" y="648.2" width="10" height="13" fill="#e2b748"/>
<rect x="301.5" y="774" width="12" height="12.8" fill="#e2b748"/>
<rect x="317.95" y="774" width="10.5" height="12.8" fill="#e2b748"/></g>
<g id="holes"><circle cx="37" cy="35" r="13" fill="#e6e9ee"/>
<circle cx="450.3" cy="34.5" r="13" fill="#e6e9ee"/>
<circle cx="806" cy="35" r="13" fill="#e6e9ee"/>
<circle cx="37.3" cy="803.3" r="13" fill="#e6e9ee"/>
<circle cx="450.4" cy="803.3" r="13" fill="#e6e9ee"/>
<circle cx="806" cy="803.3" r="13" fill="#e6e9ee"/>
<circle cx="41.1" cy="102" r="4.6" fill="#e6e9ee"/>
<circle cx="82.3" cy="102" r="4.6" fill="#e6e9ee"/>
<circle cx="41.1" cy="122.95" r="4.6" fill="#e6e9ee"/>
<circle cx="82.3" cy="122.95" r="4.6" fill="#e6e9ee"/>
<circle cx="41.1" cy="143.9" r="4.6" fill="#e6e9ee"/>
<circle cx="82.3" cy="143.9" r="4.6" fill="#e6e9ee"/>
<circle cx="41.1" cy="164.85" r="4.6" fill="#e6e9ee"/>
<circle cx="82.3" cy="164.85" r="4.6" fill="#e6e9ee"/>
<circle cx="41.1" cy="185.8" r="4.6" fill="#e6e9ee"/>
<circle cx="82.3" cy="185.8" r="4.6" fill="#e6e9ee"/>
<circle cx="41.1" cy="206.75" r="4.6" fill="#e6e9ee"/>
<circle cx="82.3" cy="206.75" r="4.6" fill="#e6e9ee"/>
<circle cx="41.1" cy="227.7" r="4.6" fill="#e6e9ee"/>
<circle cx="82.3" cy="227.7" r="4.6" fill="#e6e9ee"/>
<circle cx="41.1" cy="248.65" r="4.6" fill="#e6e9ee"/>
<circle cx="82.3" cy="248.65" r="4.6" fill="#e6e9ee"/>
<circle cx="41.1" cy="312.5" r="4.6" fill="#e6e9ee"/>
<circle cx="82.3" cy="312.5" r="4.6" fill="#e6e9ee"/>
<circle cx="41.1" cy="333.45" r="4.6" fill="#e6e9ee"/>
<circle cx="82.3" cy="333.45" r="4.6" fill="#e6e9ee"/>
<circle cx="41.1" cy="354.4" r="4.6" fill="#e6e9ee"/>
<circle cx="82.3" cy="354.4" r="4.6" fill="#e6e9ee"/>
<circle cx="41.1" cy="375.35" r="4.6" fill="#e6e9ee"/>
<circle cx="82.3" cy="375.35" r="4.6" fill="#e6e9ee"/>
<circle cx="41.1" cy="396.3" r="4.6" fill="#e6e9ee"/>
<circle cx="82.3" cy="396.3" r="4.6" fill="#e6e9ee"/>
<circle cx="41.1" cy="417.25" r="4.6" fill="#e6e9ee"/>
<circle cx="82.3" cy="417.25" r="4.6" fill="#e6e9ee"/>
<circle cx="41.1" cy="438.2" r="4.6" fill="#e6e9ee"/>
<circle cx="82.3" cy="438.2" r="4.6" fill="#e6e9ee"/>
<circle cx="41.1" cy="459.15" r="4.6" fill="#e6e9ee"/>
<circle cx="82.3" cy="459.15" r="4.6" fill="#e6e9ee"/>
<circle cx="41.1" cy="523" r="4.6" fill="#e6e9ee"/>
<circle cx="82.3" cy="523" r="4.6" fill="#e6e9ee"/>
<circle cx="41.1" cy="543.95" r="4.6" fill="#e6e9ee"/>
<circle cx="82.3" cy="543.95" r="4.6" fill="#e6e9ee"/>
<circle cx="41.1" cy="564.9" r="4.6" fill="#e6e9ee"/>
<circle cx="82.3" cy="564.9" r="4.6" fill="#e6e9ee"/>
<circle cx="41.1" cy="585.85" r="4.6" fill="#e6e9ee"/>
<circle cx="82.3" cy="585.85" r="4.6" fill="#e6e9ee"/>
<circle cx="41.1" cy="606.8" r="4.6" fill="#e6e9ee"/>
<circle cx="82.3" cy="606.8" r="4.6" fill="#e6e9ee"/>
<circle cx="41.1" cy="627.75" r="4.6" fill="#e6e9ee"/>
<circle cx="82.3" cy="627.75" r="4.6" fill="#e6e9ee"/>
<circle cx="41.1" cy="648.7" r="4.6" fill="#e6e9ee"/>
<circle cx="82.3" cy="648.7" r="4.6" fill="#e6e9ee"/>
<circle cx="41.1" cy="669.65" r="4.6" fill="#e6e9ee"/>
<circle cx="82.3" cy="669.65" r="4.6" fill="#e6e9ee"/>
<circle cx="760.6" cy="170" r="4.1" fill="#e6e9ee"/>
<circle cx="802.5" cy="170" r="4.1" fill="#e6e9ee"/>
<circle cx="760.6" cy="190.97" r="4.1" fill="#e6e9ee"/>
<circle cx="802.5" cy="190.97" r="4.1" fill="#e6e9ee"/>
<circle cx="760.6" cy="211.94" r="4.1" fill="#e6e9ee"/>
<circle cx="802.5" cy="211.94" r="4.1" fill="#e6e9ee"/>
<circle cx="760.6" cy="232.91" r="4.1" fill="#e6e9ee"/>
<circle cx="802.5" cy="232.91" r="4.1" fill="#e6e9ee"/>
<circle cx="760.6" cy="253.88" r="4.1" fill="#e6e9ee"/>
<circle cx="802.5" cy="253.88" r="4.1" fill="#e6e9ee"/>
<circle cx="760.6" cy="274.85" r="4.1" fill="#e6e9ee"/>
<circle cx="802.5" cy="274.85" r="4.1" fill="#e6e9ee"/>
<circle cx="760.6" cy="295.82" r="4.1" fill="#e6e9ee"/>
<circle cx="802.5" cy="295.82" r="4.1" fill="#e6e9ee"/>
<circle cx="760.6" cy="316.79" r="4.1" fill="#e6e9ee"/>
<circle cx="802.5" cy="316.79" r="4.1" fill="#e6e9ee"/>
<circle cx="760.6" cy="337.76" r="4.1" fill="#e6e9ee"/>
<circle cx="802.5" cy="337.76" r="4.1" fill="#e6e9ee"/>
<circle cx="760.6" cy="358.73" r="4.1" fill="#e6e9ee"/>
<circle cx="802.5" cy="358.73" r="4.1" fill="#e6e9ee"/>
<circle cx="760.6" cy="379.7" r="4.1" fill="#e6e9ee"/>
<circle cx="802.5" cy="379.7" r="4.1" fill="#e6e9ee"/>
<circle cx="760.6" cy="400.67" r="4.1" fill="#e6e9ee"/>
<circle cx="802.5" cy="400.67" r="4.1" fill="#e6e9ee"/>
<circle cx="760.6" cy="421.64" r="4.1" fill="#e6e9ee"/>
<circle cx="802.5" cy="421.64" r="4.1" fill="#e6e9ee"/>
<circle cx="760.6" cy="442.61" r="4.1" fill="#e6e9ee"/>
<circle cx="802.5" cy="442.61" r="4.1" fill="#e6e9ee"/>
<circle cx="760.6" cy="463.58" r="4.1" fill="#e6e9ee"/>
<circle cx="802.5" cy="463.58" r="4.1" fill="#e6e9ee"/>
<circle cx="760.6" cy="484.55" r="4.1" fill="#e6e9ee"/>
<circle cx="802.5" cy="484.55" r="4.1" fill="#e6e9ee"/>
<circle cx="760.6" cy="505.52" r="4.1" fill="#e6e9ee"/>
<circle cx="802.5" cy="505.52" r="4.1" fill="#e6e9ee"/>
<circle cx="760.6" cy="526.49" r="4.1" fill="#e6e9ee"/>
<circle cx="802.5" cy="526.49" r="4.1" fill="#e6e9ee"/>
<circle cx="760.6" cy="547.46" r="4.1" fill="#e6e9ee"/>
<circle cx="802.5" cy="547.46" r="4.1" fill="#e6e9ee"/>
<circle cx="760.6" cy="568.43" r="4.1" fill="#e6e9ee"/>
<circle cx="802.5" cy="568.43" r="4.1" fill="#e6e9ee"/>
<circle cx="760.6" cy="589.4" r="4.1" fill="#e6e9ee"/>
<circle cx="802.5" cy="589.4" r="4.1" fill="#e6e9ee"/>
<circle cx="760.6" cy="610.37" r="4.1" fill="#e6e9ee"/>
<circle cx="802.5" cy="610.37" r="4.1" fill="#e6e9ee"/>
<circle cx="760.6" cy="631.34" r="4.1" fill="#e6e9ee"/>
<circle cx="802.5" cy="631.34" r="4.1" fill="#e6e9ee"/>
<circle cx="760.6" cy="652.31" r="4.1" fill="#e6e9ee"/>
<circle cx="802.5" cy="652.31" r="4.1" fill="#e6e9ee"/>
<circle cx="760.6" cy="673.28" r="4.1" fill="#e6e9ee"/>
<circle cx="802.5" cy="673.28" r="4.1" fill="#e6e9ee"/>
<circle cx="760.6" cy="694.25" r="4.1" fill="#e6e9ee"/>
<circle cx="802.5" cy="694.25" r="4.1" fill="#e6e9ee"/>
<circle cx="760.6" cy="715.22" r="4.1" fill="#e6e9ee"/>
<circle cx="802.5" cy="715.22" r="4.1" fill="#e6e9ee"/>
<circle cx="760.6" cy="736.19" r="4.1" fill="#e6e9ee"/>
<circle cx="802.5" cy="736.19" r="4.1" fill="#e6e9ee"/>
<circle cx="508.6" cy="37" r="4.3" fill="#e6e9ee"/>
<circle cx="508.6" cy="78" r="4.3" fill="#e6e9ee"/>
<circle cx="529.56" cy="37" r="4.3" fill="#e6e9ee"/>
<circle cx="529.56" cy="78" r="4.3" fill="#e6e9ee"/>
<circle cx="550.52" cy="37" r="4.3" fill="#e6e9ee"/>
<circle cx="550.52" cy="78" r="4.3" fill="#e6e9ee"/>
<circle cx="571.48" cy="37" r="4.3" fill="#e6e9ee"/>
<circle cx="571.48" cy="78" r="4.3" fill="#e6e9ee"/>
<circle cx="592.44" cy="37" r="4.3" fill="#e6e9ee"/>
<circle cx="592.44" cy="78" r="4.3" fill="#e6e9ee"/>
<circle cx="613.4" cy="37" r="4.3" fill="#e6e9ee"/>
<circle cx="613.4" cy="78" r="4.3" fill="#e6e9ee"/>
<circle cx="634.36" cy="37" r="4.3" fill="#e6e9ee"/>
<circle cx="634.36" cy="78" r="4.3" fill="#e6e9ee"/>
<circle cx="655.32" cy="37" r="4.3" fill="#e6e9ee"/>
<circle cx="655.32" cy="78" r="4.3" fill="#e6e9ee"/>
<circle cx="94.5" cy="759.7" r="4.6" fill="#e6e9ee"/>
<circle cx="94.5" cy="801.1" r="4.6" fill="#e6e9ee"/>
<circle cx="115.53" cy="759.7" r="4.6" fill="#e6e9ee"/>
<circle cx="115.53" cy="801.1" r="4.6" fill="#e6e9ee"/>
<circle cx="136.56" cy="759.7" r="4.6" fill="#e6e9ee"/>
<circle cx="136.56" cy="801.1" r="4.6" fill="#e6e9ee"/>
<circle cx="157.59" cy="759.7" r="4.6" fill="#e6e9ee"/>
<circle cx="157.59" cy="801.1" r="4.6" fill="#e6e9ee"/>
<circle cx="178.62" cy="759.7" r="4.6" fill="#e6e9ee"/>
<circle cx="178.62" cy="801.1" r="4.6" fill="#e6e9ee"/>
<circle cx="199.65" cy="759.7" r="4.6" fill="#e6e9ee"/>
<circle cx="199.65" cy="801.1" r="4.6" fill="#e6e9ee"/>
<circle cx="220.68" cy="759.7" r="4.6" fill="#e6e9ee"/>
<circle cx="220.68" cy="801.1" r="4.6" fill="#e6e9ee"/>
<circle cx="241.71" cy="759.7" r="4.6" fill="#e6e9ee"/>
<circle cx="241.71" cy="801.1" r="4.6" fill="#e6e9ee"/>
<circle cx="285.6" cy="382" r="3.9" fill="#e6e9ee"/>
<circle cx="285.6" cy="402.98" r="3.9" fill="#e6e9ee"/>
<circle cx="285.6" cy="423.96" r="3.9" fill="#e6e9ee"/>
<circle cx="285.6" cy="444.94" r="3.9" fill="#e6e9ee"/>
<circle cx="285.6" cy="465.92" r="3.9" fill="#e6e9ee"/>
<circle cx="285.6" cy="486.9" r="3.9" fill="#e6e9ee"/>
<circle cx="285.6" cy="507.88" r="3.9" fill="#e6e9ee"/>
<circle cx="285.6" cy="528.86" r="3.9" fill="#e6e9ee"/>
<circle cx="285.6" cy="549.84" r="3.9" fill="#e6e9ee"/>
<circle cx="285.6" cy="570.82" r="3.9" fill="#e6e9ee"/>
<circle cx="285.6" cy="591.8" r="3.9" fill="#e6e9ee"/>
<circle cx="285.6" cy="612.78" r="3.9" fill="#e6e9ee"/>
<circle cx="285.6" cy="633.76" r="3.9" fill="#e6e9ee"/>
<circle cx="285.6" cy="654.74" r="3.9" fill="#e6e9ee"/>
<circle cx="285.6" cy="675.72" r="3.9" fill="#e6e9ee"/>
<circle cx="285.6" cy="696.7" r="3.9" fill="#e6e9ee"/>
<circle cx="285.6" cy="717.68" r="3.9" fill="#e6e9ee"/>
<circle cx="285.6" cy="738.66" r="3.9" fill="#e6e9ee"/>
<circle cx="285.6" cy="759.64" r="3.9" fill="#e6e9ee"/>
<circle cx="285.4" cy="780.5" r="3.9" fill="#e6e9ee"/>
<circle cx="411.3" cy="382" r="3.9" fill="#e6e9ee"/>
<circle cx="411.3" cy="402.98" r="3.9" fill="#e6e9ee"/>
<circle cx="411.3" cy="423.96" r="3.9" fill="#e6e9ee"/>
<circle cx="411.3" cy="444.94" r="3.9" fill="#e6e9ee"/>
<circle cx="411.3" cy="465.92" r="3.9" fill="#e6e9ee"/>
<circle cx="411.3" cy="486.9" r="3.9" fill="#e6e9ee"/>
<circle cx="411.3" cy="507.88" r="3.9" fill="#e6e9ee"/>
<circle cx="411.3" cy="528.86" r="3.9" fill="#e6e9ee"/>
<circle cx="411.3" cy="549.84" r="3.9" fill="#e6e9ee"/>
<circle cx="411.3" cy="570.82" r="3.9" fill="#e6e9ee"/>
<circle cx="411.3" cy="591.8" r="3.9" fill="#e6e9ee"/>
<circle cx="411.3" cy="612.78" r="3.9" fill="#e6e9ee"/>
<circle cx="411.3" cy="633.76" r="3.9" fill="#e6e9ee"/>
<circle cx="411.3" cy="654.74" r="3.9" fill="#e6e9ee"/>
<circle cx="411.3" cy="675.72" r="3.9" fill="#e6e9ee"/>
<circle cx="411.3" cy="696.7" r="3.9" fill="#e6e9ee"/>
<circle cx="411.3" cy="717.68" r="3.9" fill="#e6e9ee"/>
<circle cx="411.3" cy="738.66" r="3.9" fill="#e6e9ee"/>
<circle cx="411.3" cy="759.64" r="3.9" fill="#e6e9ee"/>
<circle cx="411.3" cy="780.62" r="3.9" fill="#e6e9ee"/>
<circle cx="264.8" cy="634.5" r="3.9" fill="#e6e9ee"/>
<circle cx="264.8" cy="676" r="3.9" fill="#e6e9ee"/>
<circle cx="264.8" cy="697" r="3.9" fill="#e6e9ee"/>
<circle cx="264.8" cy="718" r="3.9" fill="#e6e9ee"/>
<circle cx="264.8" cy="739" r="3.9" fill="#e6e9ee"/>
<circle cx="456.3" cy="487" r="3.3" fill="#e6e9ee"/>
<circle cx="456.3" cy="508" r="3.3" fill="#e6e9ee"/>
<circle cx="456.3" cy="529" r="3.3" fill="#e6e9ee"/>
<circle cx="456.3" cy="550" r="3.3" fill="#e6e9ee"/>
<circle cx="456.3" cy="571" r="3.3" fill="#e6e9ee"/>
<circle cx="202" cy="341.7" r="3.3" fill="#e6e9ee"/>
<circle cx="223.2" cy="341.5" r="3.3" fill="#e6e9ee"/>
<circle cx="244.4" cy="341.5" r="3.3" fill="#e6e9ee"/>
<circle cx="265.5" cy="341.5" r="3.3" fill="#e6e9ee"/>
<circle cx="286.4" cy="341.5" r="3.3" fill="#e6e9ee"/>
<circle cx="264.5" cy="55.5" r="4.4" fill="#e6e9ee"/>
<circle cx="305.8" cy="55.5" r="4" fill="#e6e9ee"/>
<circle cx="359" cy="55.5" r="4.4" fill="#e6e9ee"/>
<circle cx="400.8" cy="55.5" r="4" fill="#e6e9ee"/>
<circle cx="211.5" cy="88" r="3.3" fill="#e6e9ee"/>
<circle cx="211.5" cy="109.5" r="3.3" fill="#e6e9ee"/>
<circle cx="307" cy="129" r="4.3" fill="#e6e9ee"/>
<circle cx="327.8" cy="129" r="4.3" fill="#e6e9ee"/>
<circle cx="349" cy="129" r="4.3" fill="#e6e9ee"/>
<circle cx="231.5" cy="227.5" r="3.6" fill="#e6e9ee"/>
<circle cx="231.5" cy="248.8" r="3.6" fill="#e6e9ee"/>
<circle cx="343.8" cy="221.2" r="3.8" fill="#e6e9ee"/>
<circle cx="343.8" cy="242" r="3.8" fill="#e6e9ee"/>
<circle cx="343.8" cy="263" r="3.8" fill="#e6e9ee"/>
<circle cx="710.5" cy="88.5" r="4.4" fill="#e6e9ee"/>
<circle cx="773" cy="88.5" r="4.2" fill="#e6e9ee"/>
<circle cx="638.5" cy="146.5" r="3.3" fill="#e6e9ee"/>
<circle cx="659" cy="146.5" r="3.3" fill="#e6e9ee"/>
<circle cx="178" cy="505.8" r="3.3" fill="#e6e9ee"/>
<circle cx="199.3" cy="505.8" r="3.5" fill="#e6e9ee"/>
<circle cx="220.7" cy="648.6" r="3.3" fill="#e6e9ee"/>
<circle cx="220.7" cy="669.4" r="3.3" fill="#e6e9ee"/>
<circle cx="472.6" cy="708.8" r="3.3" fill="#e6e9ee"/>
<circle cx="501.3" cy="708.8" r="3.2" fill="#e6e9ee"/>
<circle cx="559.3" cy="725.7" r="3.5" fill="#e6e9ee"/>
<circle cx="603.6" cy="725.7" r="3.5" fill="#e6e9ee"/>
<circle cx="512.7" cy="771.8" r="3.6" fill="#e6e9ee"/>
<circle cx="512.7" cy="793" r="3.6" fill="#e6e9ee"/>
<circle cx="460.7" cy="619.7" r="3.6" fill="#e6e9ee"/>
<circle cx="505.6" cy="619.5" r="3.8" fill="#e6e9ee"/>
<circle cx="680" cy="809.6" r="3.3" fill="#e6e9ee"/>
<circle cx="701.5" cy="809.6" r="3.3" fill="#e6e9ee"/></g>
<g id="silk" fill="#fff" stroke="#fff" stroke-width="0.3" font-family="'Liberation Sans', sans-serif"><rect x="116.65" y="163.95" width="2.7" height="2.7" fill="#f6f6f2" rx="0.6"/>
<rect x="129.65" y="226.65" width="2.7" height="2.7" fill="#f6f6f2" rx="0.6"/>
<rect x="143.15" y="299.65" width="2.7" height="2.7" fill="#f6f6f2" rx="0.6"/>
<rect x="117.15" y="373.95" width="2.7" height="2.7" fill="#f6f6f2" rx="0.6"/>
<rect x="129.65" y="436.85" width="2.7" height="2.7" fill="#f6f6f2" rx="0.6"/>
<rect x="143.15" y="457.85" width="2.7" height="2.7" fill="#f6f6f2" rx="0.6"/>
<rect x="371.45" y="421.65" width="2.7" height="2.7" fill="#f6f6f2" rx="0.6"/>
<rect x="705.8" y="295" width="2" height="2" fill="#f6f6f2" rx="0.6"/>
<rect x="709.6" y="295" width="2" height="2" fill="#f6f6f2" rx="0.6"/>
<rect x="446.65" y="469.95" width="2.7" height="2.7" fill="#f6f6f2" rx="0.6"/>
<rect x="243.85" y="216.65" width="2.7" height="2.7" fill="#f6f6f2" rx="0.6"/>
<rect x="253.15" y="204.15" width="2.7" height="2.7" fill="#f6f6f2" rx="0.6"/>
<rect x="509.45" y="313.15" width="2.7" height="2.7" fill="#f6f6f2" rx="0.6"/>
<rect x="596.35" y="299.35" width="2.7" height="2.7" fill="#f6f6f2" rx="0.6"/>
<rect x="470.95" y="375.25" width="2.7" height="2.7" fill="#f6f6f2" rx="0.6"/>
<rect x="539.65" y="376.15" width="2.7" height="2.7" fill="#f6f6f2" rx="0.6"/>
<rect x="596.25" y="364.95" width="2.7" height="2.7" fill="#f6f6f2" rx="0.6"/>
<rect x="219.45" y="535.45" width="2.7" height="2.7" fill="#f6f6f2" rx="0.6"/>
<rect x="219.45" y="586.15" width="2.7" height="2.7" fill="#f6f6f2" rx="0.6"/>
<rect x="321.65" y="728.15" width="2.7" height="2.7" fill="#f6f6f2" rx="0.6"/>
<rect x="562.45" y="644.25" width="2.7" height="2.7" fill="#f6f6f2" rx="0.6"/>
<rect x="562.45" y="618.95" width="2.7" height="2.7" fill="#f6f6f2" rx="0.6"/>
<rect x="590.8" y="791.3" width="2.4" height="2.4" fill="#f6f6f2" rx="0.6"/>
<rect x="590.8" y="802.3" width="2.4" height="2.4" fill="#f6f6f2" rx="0.6"/>
<rect x="524.65" y="539.15" width="2.7" height="2.7" fill="#f6f6f2" rx="0.6"/>
<rect x="512.45" y="674.15" width="2.7" height="2.7" fill="#f6f6f2" rx="0.6"/>
<rect x="459.05" y="162.55" width="2.5" height="2.5" fill="#f6f6f2" rx="0.6"/>
<rect x="459.05" y="170.25" width="2.5" height="2.5" fill="#f6f6f2" rx="0.6"/>
<rect x="459.05" y="177.95" width="2.5" height="2.5" fill="#f6f6f2" rx="0.6"/>
<rect x="466.75" y="162.55" width="2.5" height="2.5" fill="#f6f6f2" rx="0.6"/>
<rect x="466.75" y="170.25" width="2.5" height="2.5" fill="#f6f6f2" rx="0.6"/>
<rect x="466.75" y="177.95" width="2.5" height="2.5" fill="#f6f6f2" rx="0.6"/>
<rect x="474.45" y="162.55" width="2.5" height="2.5" fill="#f6f6f2" rx="0.6"/>
<rect x="474.45" y="170.25" width="2.5" height="2.5" fill="#f6f6f2" rx="0.6"/>
<rect x="474.45" y="177.95" width="2.5" height="2.5" fill="#f6f6f2" rx="0.6"/>
<rect x="163" y="74.3" width="2.4" height="2.4" fill="#f6f6f2" rx="0.6"/>
<rect x="172.4" y="74.3" width="2.4" height="2.4" fill="#f6f6f2" rx="0.6"/>
<rect x="191.6" y="208" width="2.4" height="2.4" fill="#f6f6f2" rx="0.6"/>
<rect x="199.8" y="208" width="2.4" height="2.4" fill="#f6f6f2" rx="0.6"/>
<rect x="517.3" y="496.9" width="2.4" height="2.4" fill="#f6f6f2" rx="0.6"/>
<rect x="525.3" y="496.9" width="2.4" height="2.4" fill="#f6f6f2" rx="0.6"/>
<rect x="264.5" y="122.5" width="2.6" height="2.6" fill="#f6f6f2" rx="0.6"/>
<rect x="272.2" y="126.5" width="2.6" height="2.6" fill="#f6f6f2" rx="0.6"/>
<rect x="264.5" y="132.2" width="2.6" height="2.6" fill="#f6f6f2" rx="0.6"/>
<rect x="272.2" y="135.7" width="2.6" height="2.6" fill="#f6f6f2" rx="0.6"/>
<rect x="264.5" y="141.2" width="2.6" height="2.6" fill="#f6f6f2" rx="0.6"/>
<rect x="272.2" y="144.7" width="2.6" height="2.6" fill="#f6f6f2" rx="0.6"/>
<rect x="264.5" y="149.7" width="2.6" height="2.6" fill="#f6f6f2" rx="0.6"/>
<rect x="272.2" y="154.2" width="2.6" height="2.6" fill="#f6f6f2" rx="0.6"/>
<rect x="252.2" y="155.2" width="2.6" height="2.6" fill="#f6f6f2" rx="0.6"/>
<rect x="242.2" y="164.2" width="2.6" height="2.6" fill="#f6f6f2" rx="0.6"/>
<rect x="251.2" y="164.2" width="2.6" height="2.6" fill="#f6f6f2" rx="0.6"/>
<rect x="229.2" y="190.7" width="2.6" height="2.6" fill="#f6f6f2" rx="0.6"/>
<rect x="236.7" y="190.7" width="2.6" height="2.6" fill="#f6f6f2" rx="0.6"/>
<rect x="503.7" y="189.7" width="2.6" height="2.6" fill="#f6f6f2" rx="0.6"/>
<rect x="517.7" y="189.7" width="2.6" height="2.6" fill="#f6f6f2" rx="0.6"/>
<rect x="534.7" y="189.7" width="2.6" height="2.6" fill="#f6f6f2" rx="0.6"/>
<rect x="550.7" y="189.7" width="2.6" height="2.6" fill="#f6f6f2" rx="0.6"/>
<rect x="481.2" y="196.2" width="2.6" height="2.6" fill="#f6f6f2" rx="0.6"/>
<rect x="473.2" y="202.7" width="2.6" height="2.6" fill="#f6f6f2" rx="0.6"/>
<rect x="205.7" y="271.7" width="2.6" height="2.6" fill="#f6f6f2" rx="0.6"/>
<rect x="227.2" y="272.2" width="2.6" height="2.6" fill="#f6f6f2" rx="0.6"/>
<rect x="317.5" y="247" width="2.6" height="2.6" fill="#f6f6f2" rx="0.6"/>
<rect x="307.7" y="257.7" width="2.6" height="2.6" fill="#f6f6f2" rx="0.6"/>
<rect x="317.5" y="257.7" width="2.6" height="2.6" fill="#f6f6f2" rx="0.6"/>
<rect x="298.2" y="265.2" width="2.6" height="2.6" fill="#f6f6f2" rx="0.6"/>
<rect x="307.7" y="268.2" width="2.6" height="2.6" fill="#f6f6f2" rx="0.6"/>
<rect x="317.5" y="268.2" width="2.6" height="2.6" fill="#f6f6f2" rx="0.6"/>
<rect x="305.7" y="278.7" width="2.6" height="2.6" fill="#f6f6f2" rx="0.6"/>
<rect x="317.5" y="278.7" width="2.6" height="2.6" fill="#f6f6f2" rx="0.6"/>
<rect x="293.7" y="289.2" width="2.6" height="2.6" fill="#f6f6f2" rx="0.6"/>
<rect x="310.7" y="289.2" width="2.6" height="2.6" fill="#f6f6f2" rx="0.6"/>
<rect x="272.2" y="299.7" width="2.6" height="2.6" fill="#f6f6f2" rx="0.6"/>
<rect x="283.2" y="297.7" width="2.6" height="2.6" fill="#f6f6f2" rx="0.6"/>
<rect x="292.2" y="298.2" width="2.6" height="2.6" fill="#f6f6f2" rx="0.6"/>
<rect x="473.2" y="212" width="2.6" height="2.6" fill="#f6f6f2" rx="0.6"/>
<rect x="464.7" y="216.2" width="2.6" height="2.6" fill="#f6f6f2" rx="0.6"/>
<rect x="473.2" y="221.2" width="2.6" height="2.6" fill="#f6f6f2" rx="0.6"/>
<rect x="465.7" y="290.2" width="2.6" height="2.6" fill="#f6f6f2" rx="0.6"/>
<rect x="515.7" y="290.2" width="2.6" height="2.6" fill="#f6f6f2" rx="0.6"/>
<rect x="572.7" y="289.7" width="2.6" height="2.6" fill="#f6f6f2" rx="0.6"/>
<rect x="583.2" y="289.2" width="2.6" height="2.6" fill="#f6f6f2" rx="0.6"/>
<rect x="572.7" y="298.2" width="2.6" height="2.6" fill="#f6f6f2" rx="0.6"/>
<rect x="452.7" y="314.2" width="2.6" height="2.6" fill="#f6f6f2" rx="0.6"/>
<rect x="465.7" y="314.2" width="2.6" height="2.6" fill="#f6f6f2" rx="0.6"/>
<rect x="501.7" y="328.2" width="2.6" height="2.6" fill="#f6f6f2" rx="0.6"/>
<rect x="501.7" y="344.2" width="2.6" height="2.6" fill="#f6f6f2" rx="0.6"/>
<rect x="501.7" y="362.7" width="2.6" height="2.6" fill="#f6f6f2" rx="0.6"/>
<rect x="499.7" y="388.7" width="2.6" height="2.6" fill="#f6f6f2" rx="0.6"/>
<rect x="499.7" y="401.7" width="2.6" height="2.6" fill="#f6f6f2" rx="0.6"/>
<rect x="499.7" y="412.2" width="2.6" height="2.6" fill="#f6f6f2" rx="0.6"/>
<rect x="454.7" y="417.2" width="2.6" height="2.6" fill="#f6f6f2" rx="0.6"/>
<rect x="163.7" y="546.7" width="2.6" height="2.6" fill="#f6f6f2" rx="0.6"/>
<rect x="179.7" y="546.7" width="2.6" height="2.6" fill="#f6f6f2" rx="0.6"/>
<rect x="297.5" y="428" width="2.6" height="2.6" fill="#f6f6f2" rx="0.6"/>
<rect x="257.7" y="487.7" width="2.6" height="2.6" fill="#f6f6f2" rx="0.6"/>
<rect x="257.7" y="501.2" width="2.6" height="2.6" fill="#f6f6f2" rx="0.6"/>
<rect x="358.2" y="489.7" width="2.6" height="2.6" fill="#f6f6f2" rx="0.6"/>
<rect x="357.2" y="511.7" width="2.6" height="2.6" fill="#f6f6f2" rx="0.6"/>
<rect x="316.2" y="542.7" width="2.6" height="2.6" fill="#f6f6f2" rx="0.6"/>
<rect x="339.7" y="542.7" width="2.6" height="2.6" fill="#f6f6f2" rx="0.6"/>
<rect x="313.2" y="573.2" width="2.6" height="2.6" fill="#f6f6f2" rx="0.6"/>
<rect x="338.7" y="573.2" width="2.6" height="2.6" fill="#f6f6f2" rx="0.6"/>
<rect x="333.7" y="621.7" width="2.6" height="2.6" fill="#f6f6f2" rx="0.6"/>
<rect x="360.2" y="621.7" width="2.6" height="2.6" fill="#f6f6f2" rx="0.6"/>
<rect x="334.2" y="632.7" width="2.6" height="2.6" fill="#f6f6f2" rx="0.6"/>
<rect x="360.7" y="633.2" width="2.6" height="2.6" fill="#f6f6f2" rx="0.6"/>
<rect x="334.2" y="643.2" width="2.6" height="2.6" fill="#f6f6f2" rx="0.6"/>
<rect x="360.7" y="642.7" width="2.6" height="2.6" fill="#f6f6f2" rx="0.6"/>
<rect x="334.2" y="652.2" width="2.6" height="2.6" fill="#f6f6f2" rx="0.6"/>
<rect x="360.2" y="653.7" width="2.6" height="2.6" fill="#f6f6f2" rx="0.6"/>
<rect x="341.7" y="695.7" width="2.6" height="2.6" fill="#f6f6f2" rx="0.6"/>
<rect x="360.7" y="716.7" width="2.6" height="2.6" fill="#f6f6f2" rx="0.6"/>
<rect x="340.2" y="725.7" width="2.6" height="2.6" fill="#f6f6f2" rx="0.6"/>
<rect x="362.7" y="740.2" width="2.6" height="2.6" fill="#f6f6f2" rx="0.6"/>
<rect x="341.7" y="758.7" width="2.6" height="2.6" fill="#f6f6f2" rx="0.6"/>
<rect x="362.7" y="779.7" width="2.6" height="2.6" fill="#f6f6f2" rx="0.6"/>
<rect x="487.9" y="482.4" width="2.6" height="2.6" fill="#f6f6f2" rx="0.6"/>
<rect x="503.2" y="491.2" width="2.6" height="2.6" fill="#f6f6f2" rx="0.6"/>
<rect x="556.7" y="498.7" width="2.6" height="2.6" fill="#f6f6f2" rx="0.6"/>
<rect x="553.4" y="529.2" width="2.6" height="2.6" fill="#f6f6f2" rx="0.6"/>
<rect x="594.7" y="549.7" width="2.6" height="2.6" fill="#f6f6f2" rx="0.6"/>
<rect x="553.2" y="565.7" width="2.6" height="2.6" fill="#f6f6f2" rx="0.6"/>
<rect x="539.2" y="588.7" width="2.6" height="2.6" fill="#f6f6f2" rx="0.6"/>
<rect x="527.7" y="606.2" width="2.6" height="2.6" fill="#f6f6f2" rx="0.6"/>
<rect x="527.7" y="622.2" width="2.6" height="2.6" fill="#f6f6f2" rx="0.6"/>
<rect x="539.2" y="622.2" width="2.6" height="2.6" fill="#f6f6f2" rx="0.6"/>
<rect x="661.5" y="457.5" width="2.6" height="2.6" fill="#f6f6f2" rx="0.6"/>
<rect x="644.2" y="471.2" width="2.6" height="2.6" fill="#f6f6f2" rx="0.6"/>
<rect x="659.7" y="486.2" width="2.6" height="2.6" fill="#f6f6f2" rx="0.6"/>
<rect x="738.5" y="556.7" width="2.6" height="2.6" fill="#f6f6f2" rx="0.6"/>
<rect x="738.5" y="567.2" width="2.6" height="2.6" fill="#f6f6f2" rx="0.6"/>
<rect x="738.5" y="577.7" width="2.6" height="2.6" fill="#f6f6f2" rx="0.6"/>
<rect x="738.5" y="588.2" width="2.6" height="2.6" fill="#f6f6f2" rx="0.6"/>
<rect x="738.5" y="598.7" width="2.6" height="2.6" fill="#f6f6f2" rx="0.6"/>
<rect x="738.5" y="609.2" width="2.6" height="2.6" fill="#f6f6f2" rx="0.6"/>
<rect x="639.2" y="621.2" width="2.6" height="2.6" fill="#f6f6f2" rx="0.6"/>
<rect x="639.2" y="631.2" width="2.6" height="2.6" fill="#f6f6f2" rx="0.6"/>
<rect x="639.2" y="641.7" width="2.6" height="2.6" fill="#f6f6f2" rx="0.6"/>
<rect x="639.2" y="652.7" width="2.6" height="2.6" fill="#f6f6f2" rx="0.6"/>
<rect x="683.1" y="664.2" width="2.6" height="2.6" fill="#f6f6f2" rx="0.6"/>
<rect x="734.2" y="672.2" width="2.6" height="2.6" fill="#f6f6f2" rx="0.6"/>
<rect x="670" y="695.7" width="2.6" height="2.6" fill="#f6f6f2" rx="0.6"/>
<rect x="724.9" y="706" width="2.6" height="2.6" fill="#f6f6f2" rx="0.6"/>
<rect x="707" y="729.7" width="2.6" height="2.6" fill="#f6f6f2" rx="0.6"/>
<rect x="702.7" y="763.7" width="2.6" height="2.6" fill="#f6f6f2" rx="0.6"/>
<rect x="724.1" y="763.7" width="2.6" height="2.6" fill="#f6f6f2" rx="0.6"/>
<rect x="297.4" y="415.2" width="2.6" height="2.6" fill="#f6f6f2" rx="0.6"/>
<rect x="684.7" y="406.2" width="2.6" height="2.6" fill="#f6f6f2" rx="0.6"/>
<rect x="486.7" y="468.4" width="2.6" height="2.6" fill="#f6f6f2" rx="0.6"/>
<rect x="594.1" y="550" width="2.6" height="2.6" fill="#f6f6f2" rx="0.6"/>
<rect x="638.9" y="620.7" width="2.6" height="2.6" fill="#f6f6f2" rx="0.6"/>
<path d="M580.9,166.7 H587.1 M582.29,163.85 L585.7,169.55 M582.29,169.55 L585.7,163.85" fill="none" stroke="#fff" stroke-width="1.35" stroke-linecap="round"/>
<path d="M588.98,166.7 H595.18 M590.37,163.85 L593.78,169.55 M590.37,169.55 L593.78,163.85" fill="none" stroke="#fff" stroke-width="1.35" stroke-linecap="round"/>
<text x="597.33" y="172.4" font-size="16.76" textLength="23.27" lengthAdjust="spacingAndGlyphs">10k</text>
<text x="629.5" y="170.5" font-size="15.36" textLength="29.7" lengthAdjust="spacingAndGlyphs">R22</text>
<path d="M580.9,184.5 H587.1 M582.29,181.65 L585.7,187.35 M582.29,187.35 L585.7,181.65" fill="none" stroke="#fff" stroke-width="1.35" stroke-linecap="round"/>
<path d="M588.98,184.5 H595.18 M590.37,181.65 L593.78,187.35 M590.37,187.35 L593.78,181.65" fill="none" stroke="#fff" stroke-width="1.35" stroke-linecap="round"/>
<text x="597.33" y="190.2" font-size="16.76" textLength="23.27" lengthAdjust="spacingAndGlyphs">10k</text>
<text x="629.5" y="186" font-size="15.36" textLength="28" lengthAdjust="spacingAndGlyphs">R25</text>
<path d="M672.66,164.3 H678.86 M674.05,161.45 L677.47,167.15 M674.05,167.15 L677.47,161.45" fill="none" stroke="#fff" stroke-width="1.35" stroke-linecap="round"/>
<path d="M680.66,164.3 H686.86 M682.05,161.45 L685.47,167.15 M682.05,167.15 L685.47,161.45" fill="none" stroke="#fff" stroke-width="1.35" stroke-linecap="round"/>
<text x="688.96" y="169.75" font-size="16.06" textLength="23.04" lengthAdjust="spacingAndGlyphs">10k</text>
<text x="721" y="169.5" font-size="15.36" textLength="18" lengthAdjust="spacingAndGlyphs">R9</text>
<path d="M672.84,179.8 H679.04 M674.23,176.95 L677.64,182.65 M674.23,182.65 L677.64,176.95" fill="none" stroke="#fff" stroke-width="1.35" stroke-linecap="round"/>
<path d="M681.21,179.8 H687.41 M682.61,176.95 L686.02,182.65 M682.61,182.65 L686.02,176.95" fill="none" stroke="#fff" stroke-width="1.35" stroke-linecap="round"/>
<text x="689.75" y="185.25" font-size="16.06" textLength="49.25" lengthAdjust="spacingAndGlyphs">10kR10</text>
<text x="641.55" y="202" font-size="13.27" textLength="99.3" lengthAdjust="spacingAndGlyphs" transform="rotate(90 641.55 202)">Optional Pullups</text>
<text x="661.8" y="214.25" font-size="11.87" textLength="39.5" lengthAdjust="spacingAndGlyphs" font-weight="bold">Uart TX</text>
<text x="663.5" y="236.55" font-size="11.87" textLength="39.3" lengthAdjust="spacingAndGlyphs" font-weight="bold">Uart RX</text>
<text x="677.3" y="259.3" font-size="15.36" textLength="27" lengthAdjust="spacingAndGlyphs">sda</text>
<text x="680.5" y="281.7" font-size="15.36" textLength="19.5" lengthAdjust="spacingAndGlyphs">scl</text>
<text x="357" y="367.1" font-size="13.69" textLength="100.2" lengthAdjust="spacingAndGlyphs">Optional Pullups</text>
<text x="333.2" y="380.8" font-size="13.97" textLength="25.8" lengthAdjust="spacingAndGlyphs">R14</text>
<path d="M319.93,387.4 H326.13 M321.33,384.55 L324.74,390.25 M321.33,390.25 L324.74,384.55" fill="none" stroke="#fff" stroke-width="1.35" stroke-linecap="round"/>
<path d="M327.87,387.4 H334.07 M329.27,384.55 L332.68,390.25 M329.27,390.25 L332.68,384.55" fill="none" stroke="#fff" stroke-width="1.35" stroke-linecap="round"/>
<text x="336.13" y="392.35" font-size="14.66" textLength="22.87" lengthAdjust="spacingAndGlyphs">10k</text>
<text x="334" y="404" font-size="13.97" textLength="27.5" lengthAdjust="spacingAndGlyphs">R15.</text>
<path d="M319.93,411.1 H326.13 M321.33,408.25 L324.74,413.95 M321.33,413.95 L324.74,408.25" fill="none" stroke="#fff" stroke-width="1.35" stroke-linecap="round"/>
<path d="M327.87,411.1 H334.07 M329.27,408.25 L332.68,413.95 M329.27,413.95 L332.68,408.25" fill="none" stroke="#fff" stroke-width="1.35" stroke-linecap="round"/>
<text x="336.13" y="416.05" font-size="14.66" textLength="22.87" lengthAdjust="spacingAndGlyphs">10k</text>
<text x="334" y="444" font-size="13.97" textLength="25" lengthAdjust="spacingAndGlyphs">R19</text>
<path d="M319.93,451.8 H326.13 M321.33,448.95 L324.74,454.65 M321.33,454.65 L324.74,448.95" fill="none" stroke="#fff" stroke-width="1.35" stroke-linecap="round"/>
<path d="M327.87,451.8 H334.07 M329.27,448.95 L332.68,454.65 M329.27,454.65 L332.68,448.95" fill="none" stroke="#fff" stroke-width="1.35" stroke-linecap="round"/>
<text x="336.13" y="456.75" font-size="14.66" textLength="22.87" lengthAdjust="spacingAndGlyphs">10k</text>
<text x="330.8" y="467.2" font-size="13.97" textLength="30.2" lengthAdjust="spacingAndGlyphs">R20</text>
<path d="M319.93,473.8 H326.13 M321.33,470.95 L324.74,476.65 M321.33,476.65 L324.74,470.95" fill="none" stroke="#fff" stroke-width="1.35" stroke-linecap="round"/>
<path d="M327.87,473.8 H334.07 M329.27,470.95 L332.68,476.65 M329.27,476.65 L332.68,470.95" fill="none" stroke="#fff" stroke-width="1.35" stroke-linecap="round"/>
<text x="336.13" y="478.75" font-size="14.66" textLength="22.87" lengthAdjust="spacingAndGlyphs">10k</text>
<text x="423.6" y="385" font-size="11.73" textLength="46.7" lengthAdjust="spacingAndGlyphs" font-weight="bold">Uart8_TX</text>
<text x="423.6" y="405.9" font-size="11.73" textLength="46.7" lengthAdjust="spacingAndGlyphs" font-weight="bold">Uart8_RX</text>
<text x="426" y="447.85" font-size="14.94" textLength="55" lengthAdjust="spacingAndGlyphs">I2c1_sda</text>
<text x="428.5" y="469.1" font-size="14.25" textLength="49.5" lengthAdjust="spacingAndGlyphs">I2c1_scl</text>
<text x="366.4" y="582.7" font-size="15.64" textLength="30" lengthAdjust="spacingAndGlyphs">C20</text>
<text x="366.4" y="611.35" font-size="14.94" textLength="30" lengthAdjust="spacingAndGlyphs">10nf</text>
<text x="367" y="644.8" font-size="15.64" textLength="26.5" lengthAdjust="spacingAndGlyphs">C21</text>
<text x="366.4" y="676.65" font-size="14.94" textLength="30" lengthAdjust="spacingAndGlyphs">10nf</text>
<text x="297.2" y="770.05" font-size="16.06" textLength="29.9" lengthAdjust="spacingAndGlyphs">C24</text>
<text x="298.8" y="802.7" font-size="15.36" textLength="29.9" lengthAdjust="spacingAndGlyphs">10nf</text>
<text x="134.9" y="665.35" font-size="15.78" textLength="62.7" lengthAdjust="spacingAndGlyphs">Optional</text>
<text x="131.2" y="670.4" font-size="16.76" textLength="18.4" lengthAdjust="spacingAndGlyphs" transform="rotate(90 131.2 670.4)">R8</text>
<text x="152.4" y="670.4" font-size="16.76" textLength="18.4" lengthAdjust="spacingAndGlyphs" transform="rotate(90 152.4 670.4)">R7</text>
<text x="173.1" y="670.4" font-size="16.76" textLength="18.4" lengthAdjust="spacingAndGlyphs" transform="rotate(90 173.1 670.4)">R4</text>
<text x="191.9" y="670.4" font-size="16.76" textLength="18.4" lengthAdjust="spacingAndGlyphs" transform="rotate(90 191.9 670.4)">R3</text>
<text x="70.5" y="703.25" font-size="14.66" textLength="23" lengthAdjust="spacingAndGlyphs">10k</text>
<text x="101.5" y="703.25" font-size="14.66" textLength="23.2" lengthAdjust="spacingAndGlyphs">10k</text>
<text x="70.5" y="717.75" font-size="14.66" textLength="23" lengthAdjust="spacingAndGlyphs">10k</text>
<text x="101.5" y="717.75" font-size="14.66" textLength="23.2" lengthAdjust="spacingAndGlyphs">10k</text>
<text x="635.8" y="548.75" font-size="14.66" textLength="30.7" lengthAdjust="spacingAndGlyphs">Star</text>
<text x="680" y="548.75" font-size="14.66" textLength="27" lengthAdjust="spacingAndGlyphs">Gnd</text>
<text x="565" y="570" font-size="16.2" textLength="38.2" lengthAdjust="spacingAndGlyphs">AGnd</text>
<text x="610.6" y="570" font-size="16.2" textLength="29.2" lengthAdjust="spacingAndGlyphs">J2.1</text>
<text x="565" y="586.9" font-size="16.2" textLength="38" lengthAdjust="spacingAndGlyphs">DGnd</text>
<text x="608.8" y="586.9" font-size="16.2" textLength="31.2" lengthAdjust="spacingAndGlyphs">J2.3</text>
<text x="565" y="604" font-size="16.2" textLength="29.3" lengthAdjust="spacingAndGlyphs">Link</text>
<text x="609.5" y="604" font-size="16.2" textLength="30.5" lengthAdjust="spacingAndGlyphs">J2.5</text>
<text x="673.9" y="570.7" font-size="16.48" textLength="30.9" lengthAdjust="spacingAndGlyphs">J2.2</text>
<text x="673.9" y="587.1" font-size="16.48" textLength="30.9" lengthAdjust="spacingAndGlyphs">J2.4</text>
<text x="673.9" y="603.1" font-size="16.48" textLength="30.9" lengthAdjust="spacingAndGlyphs">J2.6</text>
<text x="672.8" y="619.2" font-size="16.48" textLength="30.2" lengthAdjust="spacingAndGlyphs">J2.7</text>
<rect x="642.7" y="556.7" width="26.5" height="48.9" fill="none" stroke="#fff" stroke-width="2"/>
<path d="M642.7,573.4 H669.2" stroke="#fff" stroke-width="2.4"/>
<path d="M642.7,589.4 H669.2" stroke="#fff" stroke-width="2.4"/>
<path d="M655.5,559.05 L660,565.05 L655.5,571.05" fill="none" stroke="#a9ad7c" stroke-width="1.5"/>
<path d="M655.5,575.4 L660,581.4 L655.5,587.4" fill="none" stroke="#a9ad7c" stroke-width="1.5"/>
<path d="M655.5,591.5 L660,597.5 L655.5,603.5" fill="none" stroke="#a9ad7c" stroke-width="1.5"/>
<rect x="705.7" y="556.7" width="26.3" height="63.9" fill="none" stroke="#fff" stroke-width="2"/>
<path d="M705.7,573.4 H732" stroke="#fff" stroke-width="2.4"/>
<path d="M705.7,589.4 H732" stroke="#fff" stroke-width="2.4"/>
<path d="M705.7,605.2 H732" stroke="#fff" stroke-width="2.4"/>
<path d="M718.9,559.05 L713.9,565.05 L718.9,571.05" fill="none" stroke="#a9ad7c" stroke-width="1.5"/>
<path d="M718.9,575.4 L713.9,581.4 L718.9,587.4" fill="none" stroke="#a9ad7c" stroke-width="1.5"/>
<path d="M718.9,591.3 L713.9,597.3 L718.9,603.3" fill="none" stroke="#a9ad7c" stroke-width="1.5"/>
<path d="M718.9,606.9 L713.9,612.9 L718.9,618.9" fill="none" stroke="#a9ad7c" stroke-width="1.5"/>
<rect x="689.5" y="562" width="2" height="2" fill="#f6f6f2" rx="0.6"/>
<rect x="689.5" y="572.7" width="2" height="2" fill="#f6f6f2" rx="0.6"/>
<rect x="689.5" y="583.5" width="2" height="2" fill="#f6f6f2" rx="0.6"/>
<rect x="689.5" y="594" width="2" height="2" fill="#f6f6f2" rx="0.6"/>
<rect x="689.5" y="604.5" width="2" height="2" fill="#f6f6f2" rx="0.6"/>
<rect x="594.4" y="567" width="2" height="2" fill="#f6f6f2" rx="0.6"/>
<path d="M396,586.8 V596.8" stroke="#fff" stroke-width="1.2"/>
<path d="M396,649.7 V659.7" stroke="#fff" stroke-width="1.2"/>
<path d="M298.3,774.5 V786.8" stroke="#fff" stroke-width="1.3"/></g>
</svg>
</body></html>
